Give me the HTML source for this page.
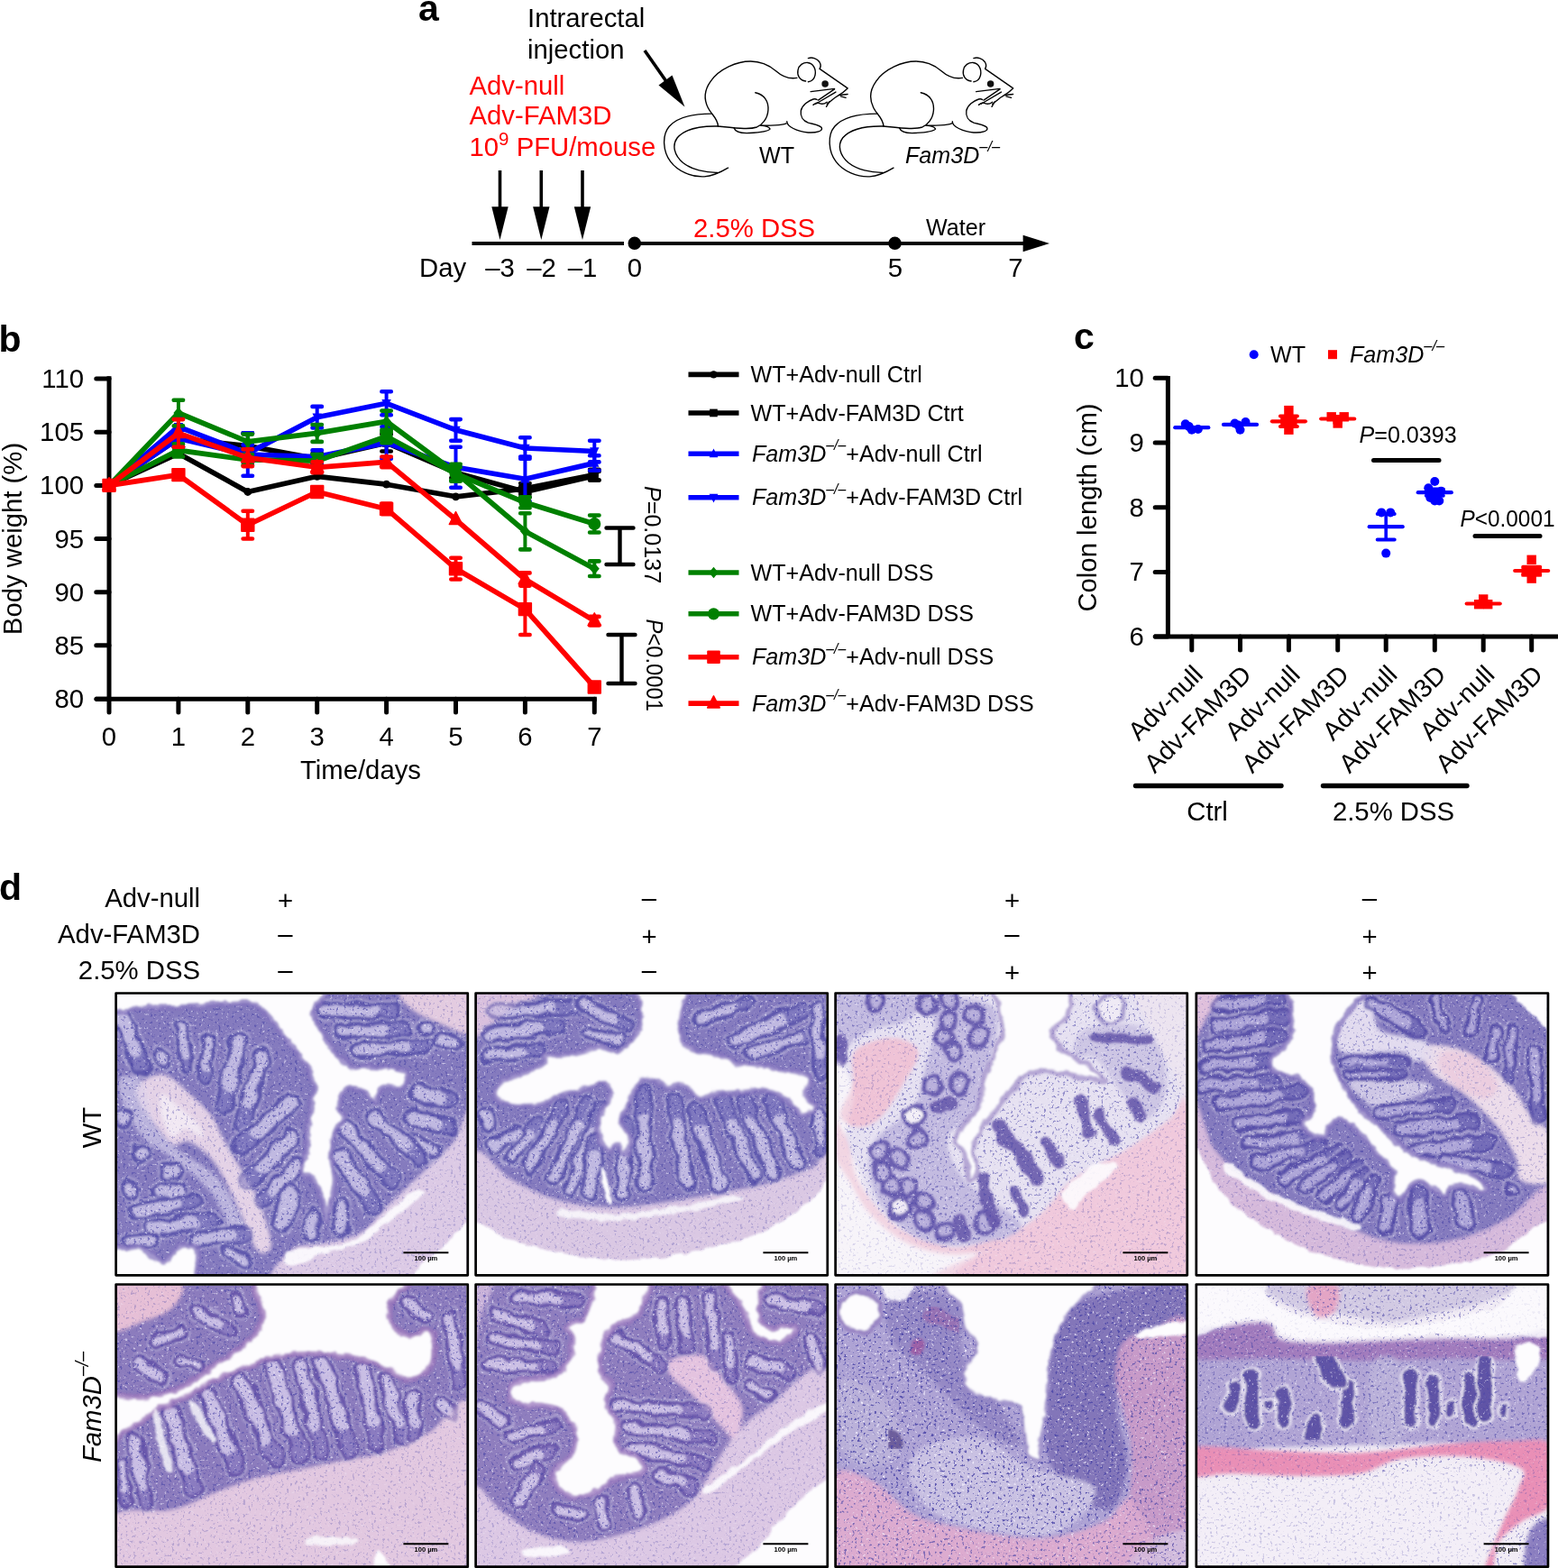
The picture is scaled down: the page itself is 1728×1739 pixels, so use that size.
<!DOCTYPE html>
<html lang="en"><head><meta charset="utf-8"><title>Figure</title>
<style>
html,body{margin:0;padding:0;background:#fff;}
body{width:1728px;height:1739px;overflow:hidden;}
svg{display:block;font-family:"Liberation Sans",sans-serif;}
.lab{font-size:41px;font-weight:bold;}
.t28{font-size:29.3px;}
.t26{font-size:27px;}
.t24{font-size:25.1px;}
.it{font-style:italic;}
.red{fill:#ff0000;}
</style></head><body>
<svg width="1728" height="1739" viewBox="0 0 1728 1739">
<defs>
<filter id="bl" x="-5%" y="-5%" width="110%" height="110%"><feGaussianBlur stdDeviation="10"/></filter>
<filter id="bl2" x="-5%" y="-5%" width="110%" height="110%"><feTurbulence type="fractalNoise" baseFrequency="0.012" numOctaves="2" seed="11" result="t"/><feDisplacementMap in="SourceGraphic" in2="t" scale="46" xChannelSelector="R" yChannelSelector="G" result="d"/><feGaussianBlur in="d" stdDeviation="5"/></filter>
<filter id="bl3" x="-5%" y="-5%" width="110%" height="110%"><feTurbulence type="fractalNoise" baseFrequency="0.02" numOctaves="2" seed="5" result="t"/><feDisplacementMap in="SourceGraphic" in2="t" scale="30" xChannelSelector="R" yChannelSelector="G" result="d"/><feGaussianBlur in="d" stdDeviation="4"/></filter>
<filter id="sp0" x="0" y="0" width="100%" height="100%" color-interpolation-filters="sRGB">
<feTurbulence type="fractalNoise" baseFrequency="0.33" numOctaves="2" seed="3" result="n"/>
<feColorMatrix in="n" type="matrix" values="0 0 0 0 0.30  0 0 0 0 0.28  0 0 0 0 0.66  -8 0 0 0 3.15" result="d"/>
<feColorMatrix in="n" type="matrix" values="0 0 0 0 0.96  0 0 0 0 0.95  0 0 0 0 1  0 6 0 0 -3.85" result="l"/>
<feMerge><feMergeNode in="l"/><feMergeNode in="d"/></feMerge>
</filter>
<filter id="sp1" x="0" y="0" width="100%" height="100%" color-interpolation-filters="sRGB">
<feTurbulence type="fractalNoise" baseFrequency="0.33" numOctaves="2" seed="10" result="n"/>
<feColorMatrix in="n" type="matrix" values="0 0 0 0 0.30  0 0 0 0 0.28  0 0 0 0 0.66  -8 0 0 0 3.15" result="d"/>
<feColorMatrix in="n" type="matrix" values="0 0 0 0 0.96  0 0 0 0 0.95  0 0 0 0 1  0 6 0 0 -3.85" result="l"/>
<feMerge><feMergeNode in="l"/><feMergeNode in="d"/></feMerge>
</filter>
<filter id="sp2" x="0" y="0" width="100%" height="100%" color-interpolation-filters="sRGB">
<feTurbulence type="fractalNoise" baseFrequency="0.33" numOctaves="2" seed="17" result="n"/>
<feColorMatrix in="n" type="matrix" values="0 0 0 0 0.30  0 0 0 0 0.28  0 0 0 0 0.66  -8 0 0 0 3.15" result="d"/>
<feColorMatrix in="n" type="matrix" values="0 0 0 0 0.96  0 0 0 0 0.95  0 0 0 0 1  0 6 0 0 -3.85" result="l"/>
<feMerge><feMergeNode in="l"/><feMergeNode in="d"/></feMerge>
</filter>
<filter id="sp3" x="0" y="0" width="100%" height="100%" color-interpolation-filters="sRGB">
<feTurbulence type="fractalNoise" baseFrequency="0.33" numOctaves="2" seed="24" result="n"/>
<feColorMatrix in="n" type="matrix" values="0 0 0 0 0.30  0 0 0 0 0.28  0 0 0 0 0.66  -8 0 0 0 3.15" result="d"/>
<feColorMatrix in="n" type="matrix" values="0 0 0 0 0.96  0 0 0 0 0.95  0 0 0 0 1  0 6 0 0 -3.85" result="l"/>
<feMerge><feMergeNode in="l"/><feMergeNode in="d"/></feMerge>
</filter>

</defs>
<rect width="1728" height="1739" fill="#fff"/>
<g id="pa">
<text x="464" y="22.8" class="lab">a</text>
<text x="585" y="30" class="t28">Intrarectal</text>
<text x="585" y="65" class="t28">injection</text>
<text x="520.5" y="104.5" class="t28 red">Adv-null</text>
<text x="520.5" y="138" class="t28 red">Adv-FAM3D</text>
<text x="520.5" y="173" class="t28 red">10<tspan dy="-11.7" font-size="20.5">9</tspan><tspan dy="11.7"> PFU/mouse</tspan></text>
<text x="769" y="263" class="t28 red">2.5% DSS</text>
<text x="1027" y="260.5" class="t24">Water</text>
<text x="842" y="180.5" class="t24">WT</text>
<text x="1004" y="180.5" class="t24 it">Fam3D<tspan dy="-12.5" font-size="16.5">–/–</tspan></text>
<text x="465" y="307.3" class="t28">Day</text>
<text x="554.5" y="307.3" class="t28" text-anchor="middle">–3</text>
<text x="600.5" y="307.3" class="t28" text-anchor="middle">–2</text>
<text x="646" y="307.3" class="t28" text-anchor="middle">–1</text>
<text x="704" y="307.3" class="t28" text-anchor="middle">0</text>
<text x="993" y="307.3" class="t28" text-anchor="middle">5</text>
<text x="1126.5" y="307.3" class="t28" text-anchor="middle">7</text>
<path d="M554.5 189V235" stroke="#000" stroke-width="3.6" fill="none"/>
<path d="M545.3 229.2L563.7 229.2L554.5 266Z" fill="#000"/>
<path d="M600.3 189V235" stroke="#000" stroke-width="3.6" fill="none"/>
<path d="M591.0999999999999 229.2L609.5 229.2L600.3 266Z" fill="#000"/>
<path d="M646 189V235" stroke="#000" stroke-width="3.6" fill="none"/>
<path d="M636.8 229.2L655.2 229.2L646 266Z" fill="#000"/>
<path d="M715 56L743 96" stroke="#000" stroke-width="3.6" fill="none"/>
<path d="M759.5 118.5L730.5 94.5L745.5 83.5Z" fill="#000"/>
<path d="M523.5 270H692M703 270H1140" stroke="#000" stroke-width="3.8" fill="none"/>
<circle cx="703.8" cy="269.8" r="7.3"/><circle cx="992.5" cy="269.8" r="7.3"/>
<path d="M1134.6 260.8L1164 270L1134.6 279.2Z" fill="#000"/>
<g transform="translate(720,50) scale(0.138889)"><g fill="none" stroke="#000" stroke-width="10" stroke-linecap="round" stroke-linejoin="round">
<path d="M1180,262 C1110,275 1050,240 1010,205 C950,155 880,130 810,130 C700,130 560,190 490,290 C440,360 435,430 470,500 C500,560 545,580 550,645"/>
<path d="M500,548 C380,548 230,570 160,650 C100,720 110,850 170,930 C230,1010 340,1055 440,1050 C520,1045 580,1010 630,980"/>
<path d="M550,648 C430,645 290,665 225,740 C180,800 200,880 270,940 C340,995 450,1020 545,1018"/>
<path d="M848,380 C920,395 955,450 950,520 C945,590 900,640 860,655 C800,675 720,665 550,648"/>
<path d="M678,662 C690,700 740,705 800,702 C870,698 950,690 965,670 C960,655 920,645 890,642"/>
<path d="M895,642 C960,645 1060,640 1095,625"/>
<path d="M1100,610 C1100,650 1180,690 1270,698 C1340,702 1385,685 1378,662 C1370,640 1310,632 1270,620 C1230,605 1205,570 1212,525 C1220,480 1270,445 1310,432 C1325,428 1335,432 1340,436"/>
<path d="M1310,478 C1325,465 1340,458 1350,462 C1370,472 1400,470 1420,455"/>
<path d="M1250,288 C1200,280 1180,240 1188,200 C1195,160 1230,138 1265,140 C1310,145 1335,190 1325,240 C1318,270 1295,290 1270,293"/>
<path d="M1270,105 C1300,95 1340,105 1360,135 C1372,155 1370,175 1362,188"/>
<path d="M1362,190 L1585,345 C1560,370 1530,392 1500,410 C1480,420 1455,445 1420,470"/>
<path d="M1290,372 L1480,348 M1350,440 L1480,352 M1330,470 L1490,375 M1520,400 L1585,392 M1530,410 L1570,420 M1415,492 L1440,450"/>
<circle cx="1405" cy="310" r="27" fill="#111" stroke="none"/>
</g></g>
<g transform="translate(903.5,50) scale(0.138889)"><g fill="none" stroke="#000" stroke-width="10" stroke-linecap="round" stroke-linejoin="round">
<path d="M1180,262 C1110,275 1050,240 1010,205 C950,155 880,130 810,130 C700,130 560,190 490,290 C440,360 435,430 470,500 C500,560 545,580 550,645"/>
<path d="M500,548 C380,548 230,570 160,650 C100,720 110,850 170,930 C230,1010 340,1055 440,1050 C520,1045 580,1010 630,980"/>
<path d="M550,648 C430,645 290,665 225,740 C180,800 200,880 270,940 C340,995 450,1020 545,1018"/>
<path d="M848,380 C920,395 955,450 950,520 C945,590 900,640 860,655 C800,675 720,665 550,648"/>
<path d="M678,662 C690,700 740,705 800,702 C870,698 950,690 965,670 C960,655 920,645 890,642"/>
<path d="M895,642 C960,645 1060,640 1095,625"/>
<path d="M1100,610 C1100,650 1180,690 1270,698 C1340,702 1385,685 1378,662 C1370,640 1310,632 1270,620 C1230,605 1205,570 1212,525 C1220,480 1270,445 1310,432 C1325,428 1335,432 1340,436"/>
<path d="M1310,478 C1325,465 1340,458 1350,462 C1370,472 1400,470 1420,455"/>
<path d="M1250,288 C1200,280 1180,240 1188,200 C1195,160 1230,138 1265,140 C1310,145 1335,190 1325,240 C1318,270 1295,290 1270,293"/>
<path d="M1270,105 C1300,95 1340,105 1360,135 C1372,155 1370,175 1362,188"/>
<path d="M1362,190 L1585,345 C1560,370 1530,392 1500,410 C1480,420 1455,445 1420,470"/>
<path d="M1290,372 L1480,348 M1350,440 L1480,352 M1330,470 L1490,375 M1520,400 L1585,392 M1530,410 L1570,420 M1415,492 L1440,450"/>
<circle cx="1405" cy="310" r="27" fill="#111" stroke="none"/>
</g></g>
</g>
<g id="pb">
<text x="-1.5" y="389.5" class="lab">b</text>
<path d="M121 417.3V777.7M106 775.2H661.8" stroke="#000" stroke-width="5" fill="none"/>
<path d="M106.8 420.1H121" stroke="#000" stroke-width="5" stroke-linecap="round"/>
<text x="93" y="430.1" class="t28" text-anchor="end">110</text>
<path d="M106.8 479.2H121" stroke="#000" stroke-width="5" stroke-linecap="round"/>
<text x="93" y="489.2" class="t28" text-anchor="end">105</text>
<path d="M106.8 538.4H121" stroke="#000" stroke-width="5" stroke-linecap="round"/>
<text x="93" y="548.4" class="t28" text-anchor="end">100</text>
<path d="M106.8 597.5H121" stroke="#000" stroke-width="5" stroke-linecap="round"/>
<text x="93" y="607.5" class="t28" text-anchor="end">95</text>
<path d="M106.8 656.7H121" stroke="#000" stroke-width="5" stroke-linecap="round"/>
<text x="93" y="666.7" class="t28" text-anchor="end">90</text>
<path d="M106.8 715.8H121" stroke="#000" stroke-width="5" stroke-linecap="round"/>
<text x="93" y="725.8" class="t28" text-anchor="end">85</text>
<text x="93" y="785.0" class="t28" text-anchor="end">80</text>
<path d="M106.8 775.2H121" stroke="#000" stroke-width="5" stroke-linecap="round"/>
<path d="M121.0 775.2V790" stroke="#000" stroke-width="5" stroke-linecap="round"/>
<text x="121.0" y="826.5" class="t28" text-anchor="middle">0</text>
<path d="M197.9 775.2V790" stroke="#000" stroke-width="5" stroke-linecap="round"/>
<text x="197.9" y="826.5" class="t28" text-anchor="middle">1</text>
<path d="M274.8 775.2V790" stroke="#000" stroke-width="5" stroke-linecap="round"/>
<text x="274.8" y="826.5" class="t28" text-anchor="middle">2</text>
<path d="M351.7 775.2V790" stroke="#000" stroke-width="5" stroke-linecap="round"/>
<text x="351.7" y="826.5" class="t28" text-anchor="middle">3</text>
<path d="M428.6 775.2V790" stroke="#000" stroke-width="5" stroke-linecap="round"/>
<text x="428.6" y="826.5" class="t28" text-anchor="middle">4</text>
<path d="M505.5 775.2V790" stroke="#000" stroke-width="5" stroke-linecap="round"/>
<text x="505.5" y="826.5" class="t28" text-anchor="middle">5</text>
<path d="M582.4 775.2V790" stroke="#000" stroke-width="5" stroke-linecap="round"/>
<text x="582.4" y="826.5" class="t28" text-anchor="middle">6</text>
<path d="M659.3 775.2V790" stroke="#000" stroke-width="5" stroke-linecap="round"/>
<text x="659.3" y="826.5" class="t28" text-anchor="middle">7</text>
<text x="400" y="864" class="t28" text-anchor="middle">Time/days</text>
<text transform="translate(24.2,597.5) rotate(-90)" class="t28" text-anchor="middle">Body weight (%)</text>
<g><polyline points="121.0,538.4 197.9,502.9 274.8,545.5 351.7,528.3 428.6,537.2 505.5,550.8 582.4,541.9 659.3,526.6" fill="none" stroke="#000" stroke-width="5.7" stroke-linejoin="round" stroke-linecap="round"/><circle cx="121.0" cy="538.4" r="4.4" fill="#000"/><circle cx="197.9" cy="502.9" r="4.4" fill="#000"/><circle cx="274.8" cy="545.5" r="4.4" fill="#000"/><circle cx="351.7" cy="528.3" r="4.4" fill="#000"/><circle cx="428.6" cy="537.2" r="4.4" fill="#000"/><circle cx="505.5" cy="550.8" r="4.4" fill="#000"/><path d="M582.4 536.0V547.9" stroke="#000" stroke-width="4" fill="none"/><path d="M577.2 536.0H587.6M577.2 547.9H587.6" stroke="#000" stroke-width="4.6" stroke-linecap="round" fill="none"/><circle cx="582.4" cy="541.9" r="4.4" fill="#000"/><path d="M659.3 520.7V532.5" stroke="#000" stroke-width="4" fill="none"/><path d="M654.1 520.7H664.5M654.1 532.5H664.5" stroke="#000" stroke-width="4.6" stroke-linecap="round" fill="none"/><circle cx="659.3" cy="526.6" r="4.4" fill="#000"/></g>
<g><polyline points="121.0,538.4 197.9,486.3 274.8,494.6 351.7,508.8 428.6,491.1 505.5,524.2 582.4,545.5 659.3,527.8" fill="none" stroke="#000" stroke-width="5.7" stroke-linejoin="round" stroke-linecap="round"/><rect x="116.4" y="533.8" width="9.2" height="9.2" fill="#000"/><path d="M197.9 476.9V495.8" stroke="#000" stroke-width="4" fill="none"/><path d="M192.7 476.9H203.1M192.7 495.8H203.1" stroke="#000" stroke-width="4.6" stroke-linecap="round" fill="none"/><rect x="193.3" y="481.7" width="9.2" height="9.2" fill="#000"/><path d="M274.8 480.4V508.8" stroke="#000" stroke-width="4" fill="none"/><path d="M269.6 480.4H280.0M269.6 508.8H280.0" stroke="#000" stroke-width="4.6" stroke-linecap="round" fill="none"/><rect x="270.2" y="490.0" width="9.2" height="9.2" fill="#000"/><path d="M351.7 502.9V514.7" stroke="#000" stroke-width="4" fill="none"/><path d="M346.5 502.9H356.9M346.5 514.7H356.9" stroke="#000" stroke-width="4.6" stroke-linecap="round" fill="none"/><rect x="347.1" y="504.2" width="9.2" height="9.2" fill="#000"/><path d="M428.6 481.6V500.5" stroke="#000" stroke-width="4" fill="none"/><path d="M423.4 481.6H433.8M423.4 500.5H433.8" stroke="#000" stroke-width="4.6" stroke-linecap="round" fill="none"/><rect x="424.0" y="486.5" width="9.2" height="9.2" fill="#000"/><path d="M505.5 518.3V530.1" stroke="#000" stroke-width="4" fill="none"/><path d="M500.3 518.3H510.7M500.3 530.1H510.7" stroke="#000" stroke-width="4.6" stroke-linecap="round" fill="none"/><rect x="500.9" y="519.6" width="9.2" height="9.2" fill="#000"/><path d="M582.4 539.6V551.4" stroke="#000" stroke-width="4" fill="none"/><path d="M577.2 539.6H587.6M577.2 551.4H587.6" stroke="#000" stroke-width="4.6" stroke-linecap="round" fill="none"/><rect x="577.8" y="540.9" width="9.2" height="9.2" fill="#000"/><path d="M659.3 523.0V532.5" stroke="#000" stroke-width="4" fill="none"/><path d="M654.1 523.0H664.5M654.1 532.5H664.5" stroke="#000" stroke-width="4.6" stroke-linecap="round" fill="none"/><rect x="654.7" y="523.2" width="9.2" height="9.2" fill="#000"/></g>
<g><polyline points="121.0,538.4 197.9,486.3 274.8,504.1 351.7,506.5 428.6,491.1 505.5,518.3 582.4,531.3 659.3,513.6" fill="none" stroke="#0000ff" stroke-width="5.7" stroke-linejoin="round" stroke-linecap="round"/><path d="M121.0 532.2L126.2 542.6L115.8 542.6Z" fill="#0000ff"/><path d="M197.9 476.9V495.8" stroke="#0000ff" stroke-width="4" fill="none"/><path d="M192.7 476.9H203.1M192.7 495.8H203.1" stroke="#0000ff" stroke-width="4.6" stroke-linecap="round" fill="none"/><path d="M197.9 480.1L203.1 490.5L192.7 490.5Z" fill="#0000ff"/><path d="M274.8 480.4V527.8" stroke="#0000ff" stroke-width="4" fill="none"/><path d="M269.6 480.4H280.0M269.6 527.8H280.0" stroke="#0000ff" stroke-width="4.6" stroke-linecap="round" fill="none"/><path d="M274.8 497.9L280.0 508.3L269.6 508.3Z" fill="#0000ff"/><path d="M351.7 499.4V513.6" stroke="#0000ff" stroke-width="4" fill="none"/><path d="M346.5 499.4H356.9M346.5 513.6H356.9" stroke="#0000ff" stroke-width="4.6" stroke-linecap="round" fill="none"/><path d="M351.7 500.3L356.9 510.7L346.5 510.7Z" fill="#0000ff"/><path d="M428.6 473.3V508.8" stroke="#0000ff" stroke-width="4" fill="none"/><path d="M423.4 473.3H433.8M423.4 508.8H433.8" stroke="#0000ff" stroke-width="4.6" stroke-linecap="round" fill="none"/><path d="M428.6 484.9L433.8 495.3L423.4 495.3Z" fill="#0000ff"/><path d="M505.5 495.8V540.8" stroke="#0000ff" stroke-width="4" fill="none"/><path d="M500.3 495.8H510.7M500.3 540.8H510.7" stroke="#0000ff" stroke-width="4.6" stroke-linecap="round" fill="none"/><path d="M505.5 512.1L510.7 522.5L500.3 522.5Z" fill="#0000ff"/><path d="M582.4 506.5V556.1" stroke="#0000ff" stroke-width="4" fill="none"/><path d="M577.2 506.5H587.6M577.2 556.1H587.6" stroke="#0000ff" stroke-width="4.6" stroke-linecap="round" fill="none"/><path d="M582.4 525.1L587.6 535.5L577.2 535.5Z" fill="#0000ff"/><path d="M659.3 505.3V521.8" stroke="#0000ff" stroke-width="4" fill="none"/><path d="M654.1 505.3H664.5M654.1 521.8H664.5" stroke="#0000ff" stroke-width="4.6" stroke-linecap="round" fill="none"/><path d="M659.3 507.4L664.5 517.8L654.1 517.8Z" fill="#0000ff"/></g>
<g><polyline points="121.0,538.4 197.9,473.3 274.8,502.9 351.7,462.7 428.6,447.3 505.5,476.9 582.4,497.0 659.3,500.5" fill="none" stroke="#0000ff" stroke-width="5.7" stroke-linejoin="round" stroke-linecap="round"/><path d="M121.0 544.6L126.2 534.2L115.8 534.2Z" fill="#0000ff"/><path d="M197.9 463.9V482.8" stroke="#0000ff" stroke-width="4" fill="none"/><path d="M192.7 463.9H203.1M192.7 482.8H203.1" stroke="#0000ff" stroke-width="4.6" stroke-linecap="round" fill="none"/><path d="M197.9 479.5L203.1 469.1L192.7 469.1Z" fill="#0000ff"/><path d="M274.8 493.4V512.4" stroke="#0000ff" stroke-width="4" fill="none"/><path d="M269.6 493.4H280.0M269.6 512.4H280.0" stroke="#0000ff" stroke-width="4.6" stroke-linecap="round" fill="none"/><path d="M274.8 509.1L280.0 498.7L269.6 498.7Z" fill="#0000ff"/><path d="M351.7 450.9V474.5" stroke="#0000ff" stroke-width="4" fill="none"/><path d="M346.5 450.9H356.9M346.5 474.5H356.9" stroke="#0000ff" stroke-width="4.6" stroke-linecap="round" fill="none"/><path d="M351.7 468.9L356.9 458.5L346.5 458.5Z" fill="#0000ff"/><path d="M428.6 434.3V460.3" stroke="#0000ff" stroke-width="4" fill="none"/><path d="M423.4 434.3H433.8M423.4 460.3H433.8" stroke="#0000ff" stroke-width="4.6" stroke-linecap="round" fill="none"/><path d="M428.6 453.5L433.8 443.1L423.4 443.1Z" fill="#0000ff"/><path d="M505.5 465.1V488.7" stroke="#0000ff" stroke-width="4" fill="none"/><path d="M500.3 465.1H510.7M500.3 488.7H510.7" stroke="#0000ff" stroke-width="4.6" stroke-linecap="round" fill="none"/><path d="M505.5 483.1L510.7 472.7L500.3 472.7Z" fill="#0000ff"/><path d="M582.4 485.2V508.8" stroke="#0000ff" stroke-width="4" fill="none"/><path d="M577.2 485.2H587.6M577.2 508.8H587.6" stroke="#0000ff" stroke-width="4.6" stroke-linecap="round" fill="none"/><path d="M582.4 503.2L587.6 492.8L577.2 492.8Z" fill="#0000ff"/><path d="M659.3 488.7V512.4" stroke="#0000ff" stroke-width="4" fill="none"/><path d="M654.1 488.7H664.5M654.1 512.4H664.5" stroke="#0000ff" stroke-width="4.6" stroke-linecap="round" fill="none"/><path d="M659.3 506.7L664.5 496.3L654.1 496.3Z" fill="#0000ff"/></g>
<g><polyline points="121.0,538.4 197.9,458.0 274.8,489.9 351.7,480.4 428.6,467.4 505.5,524.2 582.4,589.3 659.3,630.7" fill="none" stroke="#008000" stroke-width="5.7" stroke-linejoin="round" stroke-linecap="round"/><path d="M121.0 531.9L126.5 538.4L121.0 544.9L115.5 538.4Z" fill="#008000"/><path d="M197.9 443.8V472.2" stroke="#008000" stroke-width="4" fill="none"/><path d="M192.7 443.8H203.1M192.7 472.2H203.1" stroke="#008000" stroke-width="4.6" stroke-linecap="round" fill="none"/><path d="M197.9 451.5L203.4 458.0L197.9 464.5L192.4 458.0Z" fill="#008000"/><path d="M274.8 481.6V498.2" stroke="#008000" stroke-width="4" fill="none"/><path d="M269.6 481.6H280.0M269.6 498.2H280.0" stroke="#008000" stroke-width="4.6" stroke-linecap="round" fill="none"/><path d="M274.8 483.4L280.3 489.9L274.8 496.4L269.3 489.9Z" fill="#008000"/><path d="M351.7 471.0V489.9" stroke="#008000" stroke-width="4" fill="none"/><path d="M346.5 471.0H356.9M346.5 489.9H356.9" stroke="#008000" stroke-width="4.6" stroke-linecap="round" fill="none"/><path d="M351.7 473.9L357.2 480.4L351.7 486.9L346.2 480.4Z" fill="#008000"/><path d="M428.6 455.6V479.2" stroke="#008000" stroke-width="4" fill="none"/><path d="M423.4 455.6H433.8M423.4 479.2H433.8" stroke="#008000" stroke-width="4.6" stroke-linecap="round" fill="none"/><path d="M428.6 460.9L434.1 467.4L428.6 473.9L423.1 467.4Z" fill="#008000"/><path d="M505.5 514.7V533.7" stroke="#008000" stroke-width="4" fill="none"/><path d="M500.3 514.7H510.7M500.3 533.7H510.7" stroke="#008000" stroke-width="4.6" stroke-linecap="round" fill="none"/><path d="M505.5 517.7L511.0 524.2L505.5 530.7L500.0 524.2Z" fill="#008000"/><path d="M582.4 569.2V609.4" stroke="#008000" stroke-width="4" fill="none"/><path d="M577.2 569.2H587.6M577.2 609.4H587.6" stroke="#008000" stroke-width="4.6" stroke-linecap="round" fill="none"/><path d="M582.4 582.8L587.9 589.3L582.4 595.8L576.9 589.3Z" fill="#008000"/><path d="M659.3 622.4V639.0" stroke="#008000" stroke-width="4" fill="none"/><path d="M654.1 622.4H664.5M654.1 639.0H664.5" stroke="#008000" stroke-width="4.6" stroke-linecap="round" fill="none"/><path d="M659.3 624.2L664.8 630.7L659.3 637.2L653.8 630.7Z" fill="#008000"/></g>
<g><polyline points="121.0,538.4 197.9,499.4 274.8,510.0 351.7,511.2 428.6,484.0 505.5,525.4 582.4,557.3 659.3,581.0" fill="none" stroke="#008000" stroke-width="5.7" stroke-linejoin="round" stroke-linecap="round"/><circle cx="121.0" cy="538.4" r="7.0" fill="#008000"/><path d="M197.9 492.3V506.5" stroke="#008000" stroke-width="4" fill="none"/><path d="M192.7 492.3H203.1M192.7 506.5H203.1" stroke="#008000" stroke-width="4.6" stroke-linecap="round" fill="none"/><circle cx="197.9" cy="499.4" r="7.0" fill="#008000"/><path d="M274.8 504.1V515.9" stroke="#008000" stroke-width="4" fill="none"/><path d="M269.6 504.1H280.0M269.6 515.9H280.0" stroke="#008000" stroke-width="4.6" stroke-linecap="round" fill="none"/><circle cx="274.8" cy="510.0" r="7.0" fill="#008000"/><path d="M351.7 504.1V518.3" stroke="#008000" stroke-width="4" fill="none"/><path d="M346.5 504.1H356.9M346.5 518.3H356.9" stroke="#008000" stroke-width="4.6" stroke-linecap="round" fill="none"/><circle cx="351.7" cy="511.2" r="7.0" fill="#008000"/><path d="M428.6 476.9V491.1" stroke="#008000" stroke-width="4" fill="none"/><path d="M423.4 476.9H433.8M423.4 491.1H433.8" stroke="#008000" stroke-width="4.6" stroke-linecap="round" fill="none"/><circle cx="428.6" cy="484.0" r="7.0" fill="#008000"/><path d="M505.5 518.3V532.5" stroke="#008000" stroke-width="4" fill="none"/><path d="M500.3 518.3H510.7M500.3 532.5H510.7" stroke="#008000" stroke-width="4.6" stroke-linecap="round" fill="none"/><circle cx="505.5" cy="525.4" r="7.0" fill="#008000"/><path d="M582.4 551.4V563.2" stroke="#008000" stroke-width="4" fill="none"/><path d="M577.2 551.4H587.6M577.2 563.2H587.6" stroke="#008000" stroke-width="4.6" stroke-linecap="round" fill="none"/><circle cx="582.4" cy="557.3" r="7.0" fill="#008000"/><path d="M659.3 571.5V590.5" stroke="#008000" stroke-width="4" fill="none"/><path d="M654.1 571.5H664.5M654.1 590.5H664.5" stroke="#008000" stroke-width="4.6" stroke-linecap="round" fill="none"/><circle cx="659.3" cy="581.0" r="7.0" fill="#008000"/></g>
<g><polyline points="121.0,538.4 197.9,526.6 274.8,582.2 351.7,545.5 428.6,564.4 505.5,630.7 582.4,675.6 659.3,762.0" fill="none" stroke="#ff0000" stroke-width="5.7" stroke-linejoin="round" stroke-linecap="round"/><rect x="113.3" y="530.7" width="15.4" height="15.4" rx="1" fill="#ff0000"/><rect x="190.2" y="518.9" width="15.4" height="15.4" rx="1" fill="#ff0000"/><path d="M274.8 566.8V597.5" stroke="#ff0000" stroke-width="4" fill="none"/><path d="M269.6 566.8H280.0M269.6 597.5H280.0" stroke="#ff0000" stroke-width="4.6" stroke-linecap="round" fill="none"/><rect x="267.1" y="574.5" width="15.4" height="15.4" rx="1" fill="#ff0000"/><path d="M351.7 540.8V550.2" stroke="#ff0000" stroke-width="4" fill="none"/><path d="M346.5 540.8H356.9M346.5 550.2H356.9" stroke="#ff0000" stroke-width="4.6" stroke-linecap="round" fill="none"/><rect x="344.0" y="537.8" width="15.4" height="15.4" rx="1" fill="#ff0000"/><path d="M428.6 558.5V570.3" stroke="#ff0000" stroke-width="4" fill="none"/><path d="M423.4 558.5H433.8M423.4 570.3H433.8" stroke="#ff0000" stroke-width="4.6" stroke-linecap="round" fill="none"/><rect x="420.9" y="556.7" width="15.4" height="15.4" rx="1" fill="#ff0000"/><path d="M505.5 618.8V642.5" stroke="#ff0000" stroke-width="4" fill="none"/><path d="M500.3 618.8H510.7M500.3 642.5H510.7" stroke="#ff0000" stroke-width="4.6" stroke-linecap="round" fill="none"/><rect x="497.8" y="623.0" width="15.4" height="15.4" rx="1" fill="#ff0000"/><path d="M582.4 647.2V704.0" stroke="#ff0000" stroke-width="4" fill="none"/><path d="M577.2 647.2H587.6M577.2 704.0H587.6" stroke="#ff0000" stroke-width="4.6" stroke-linecap="round" fill="none"/><rect x="574.7" y="667.9" width="15.4" height="15.4" rx="1" fill="#ff0000"/><rect x="651.6" y="754.3" width="15.4" height="15.4" rx="1" fill="#ff0000"/></g>
<g><polyline points="121.0,538.4 197.9,480.4 274.8,507.6 351.7,518.3 428.6,512.4 505.5,576.3 582.4,642.5 659.3,688.6" fill="none" stroke="#ff0000" stroke-width="5.7" stroke-linejoin="round" stroke-linecap="round"/><path d="M121.0 529.7L128.2 543.6L113.8 543.6Z" fill="#ff0000" stroke="#ff0000" stroke-width="1.5" stroke-linejoin="round"/><path d="M197.9 465.1V495.8" stroke="#ff0000" stroke-width="4" fill="none"/><path d="M192.7 465.1H203.1M192.7 495.8H203.1" stroke="#ff0000" stroke-width="4.6" stroke-linecap="round" fill="none"/><path d="M197.9 471.7L205.1 485.6L190.7 485.6Z" fill="#ff0000" stroke="#ff0000" stroke-width="1.5" stroke-linejoin="round"/><path d="M274.8 498.2V517.1" stroke="#ff0000" stroke-width="4" fill="none"/><path d="M269.6 498.2H280.0M269.6 517.1H280.0" stroke="#ff0000" stroke-width="4.6" stroke-linecap="round" fill="none"/><path d="M274.8 498.9L282.0 512.8L267.6 512.8Z" fill="#ff0000" stroke="#ff0000" stroke-width="1.5" stroke-linejoin="round"/><path d="M351.7 512.4V524.2" stroke="#ff0000" stroke-width="4" fill="none"/><path d="M346.5 512.4H356.9M346.5 524.2H356.9" stroke="#ff0000" stroke-width="4.6" stroke-linecap="round" fill="none"/><path d="M351.7 509.6L358.9 523.5L344.5 523.5Z" fill="#ff0000" stroke="#ff0000" stroke-width="1.5" stroke-linejoin="round"/><path d="M428.6 506.5V518.3" stroke="#ff0000" stroke-width="4" fill="none"/><path d="M423.4 506.5H433.8M423.4 518.3H433.8" stroke="#ff0000" stroke-width="4.6" stroke-linecap="round" fill="none"/><path d="M428.6 503.7L435.8 517.6L421.4 517.6Z" fill="#ff0000" stroke="#ff0000" stroke-width="1.5" stroke-linejoin="round"/><path d="M505.5 567.6L512.7 581.5L498.3 581.5Z" fill="#ff0000" stroke="#ff0000" stroke-width="1.5" stroke-linejoin="round"/><path d="M582.4 635.4V649.6" stroke="#ff0000" stroke-width="4" fill="none"/><path d="M577.2 635.4H587.6M577.2 649.6H587.6" stroke="#ff0000" stroke-width="4.6" stroke-linecap="round" fill="none"/><path d="M582.4 633.8L589.6 647.7L575.2 647.7Z" fill="#ff0000" stroke="#ff0000" stroke-width="1.5" stroke-linejoin="round"/><path d="M659.3 683.9V693.4" stroke="#ff0000" stroke-width="4" fill="none"/><path d="M654.1 683.9H664.5M654.1 693.4H664.5" stroke="#ff0000" stroke-width="4.6" stroke-linecap="round" fill="none"/><path d="M659.3 679.9L666.5 693.8L652.1 693.8Z" fill="#ff0000" stroke="#ff0000" stroke-width="1.5" stroke-linejoin="round"/></g>
<path d="M687.5 585.5V626M672.5 585.5H702.5M672.5 626H702.5" stroke="#000" stroke-width="4.4" stroke-linecap="round" fill="none"/>
<path d="M689.5 704V758M674.5 704H704.5M674.5 758H704.5" stroke="#000" stroke-width="4.4" stroke-linecap="round" fill="none"/>
<text transform="translate(715.3,539) rotate(90)" class="t24"><tspan class="it">P</tspan>=0.0137</text>
<text transform="translate(717.3,686.5) rotate(90)" class="t24" textLength="102.5" lengthAdjust="spacingAndGlyphs"><tspan class="it">P</tspan>&lt;0.0001</text>
<path d="M763.5 415.4H819.5" stroke="#000" stroke-width="5.6"/>
<circle cx="791.5" cy="415.4" r="4.2" fill="#000"/>
<text x="832.5" y="424.0" class="t24">WT+Adv-null Ctrl</text>
<path d="M763.5 458H819.5" stroke="#000" stroke-width="5.6"/>
<rect x="787.1" y="453.6" width="8.7" height="8.7" fill="#000"/>
<text x="832.5" y="466.6" class="t24">WT+Adv-FAM3D Ctrt</text>
<path d="M763.5 503.3H819.5" stroke="#0000ff" stroke-width="5.6"/>
<path d="M791.5 497.4L796.4 507.2L786.6 507.2Z" fill="#0000ff"/>
<text x="834" y="511.9" class="t24"><tspan class="it">Fam3D</tspan><tspan class="it" dy="-12.5" font-size="15.8">–/–</tspan><tspan dy="12.5">+Adv-null Ctrl</tspan></text>
<path d="M763.5 551.7H819.5" stroke="#0000ff" stroke-width="5.6"/>
<path d="M791.5 557.6L796.4 547.8L786.6 547.8Z" fill="#0000ff"/>
<text x="834" y="560.3" class="t24"><tspan class="it">Fam3D</tspan><tspan class="it" dy="-12.5" font-size="15.8">–/–</tspan><tspan dy="12.5">+Adv-FAM3D Ctrl</tspan></text>
<path d="M763.5 635H819.5" stroke="#008000" stroke-width="5.6"/>
<path d="M791.5 628.8L796.7 635.0L791.5 641.2L786.3 635.0Z" fill="#008000"/>
<text x="832.5" y="643.6" class="t24">WT+Adv-null DSS</text>
<path d="M763.5 680.8H819.5" stroke="#008000" stroke-width="5.6"/>
<circle cx="791.5" cy="680.8" r="6.6" fill="#008000"/>
<text x="832.5" y="689.4" class="t24">WT+Adv-FAM3D DSS</text>
<path d="M763.5 728.7H819.5" stroke="#ff0000" stroke-width="5.6"/>
<rect x="784.2" y="721.4" width="14.6" height="14.6" rx="1" fill="#ff0000"/>
<text x="834" y="737.3" class="t24"><tspan class="it">Fam3D</tspan><tspan class="it" dy="-12.5" font-size="15.8">–/–</tspan><tspan dy="12.5">+Adv-null DSS</tspan></text>
<path d="M763.5 780.1H819.5" stroke="#ff0000" stroke-width="5.6"/>
<path d="M791.5 771.8L798.3 784.9L784.7 784.9Z" fill="#ff0000" stroke="#ff0000" stroke-width="1.5" stroke-linejoin="round"/>
<text x="834" y="788.7" class="t24"><tspan class="it">Fam3D</tspan><tspan class="it" dy="-12.5" font-size="15.8">–/–</tspan><tspan dy="12.5">+Adv-FAM3D DSS</tspan></text>
</g>
<g id="pc">
<text x="1191" y="387" class="lab">c</text>
<path d="M1295.4 417V708.6M1280 706.1H1728" stroke="#000" stroke-width="5" fill="none"/>
<path d="M1281.2 419.3H1295" stroke="#000" stroke-width="5" stroke-linecap="round"/>
<text x="1268.8" y="429.3" class="t28" text-anchor="end">10</text>
<path d="M1281.2 491.0H1295" stroke="#000" stroke-width="5" stroke-linecap="round"/>
<text x="1268.8" y="501.0" class="t28" text-anchor="end">9</text>
<path d="M1281.2 562.7H1295" stroke="#000" stroke-width="5" stroke-linecap="round"/>
<text x="1268.8" y="572.7" class="t28" text-anchor="end">8</text>
<path d="M1281.2 634.4H1295" stroke="#000" stroke-width="5" stroke-linecap="round"/>
<text x="1268.8" y="644.4" class="t28" text-anchor="end">7</text>
<path d="M1281.2 706.1H1295" stroke="#000" stroke-width="5" stroke-linecap="round"/>
<text x="1268.8" y="716.1" class="t28" text-anchor="end">6</text>
<path d="M1321.8 706.1V721" stroke="#000" stroke-width="5" stroke-linecap="round"/>
<path d="M1375.5 706.1V721" stroke="#000" stroke-width="5" stroke-linecap="round"/>
<path d="M1429.4 706.1V721" stroke="#000" stroke-width="5" stroke-linecap="round"/>
<path d="M1483.7 706.1V721" stroke="#000" stroke-width="5" stroke-linecap="round"/>
<path d="M1537.2 706.1V721" stroke="#000" stroke-width="5" stroke-linecap="round"/>
<path d="M1591.3 706.1V721" stroke="#000" stroke-width="5" stroke-linecap="round"/>
<path d="M1645.2 706.1V721" stroke="#000" stroke-width="5" stroke-linecap="round"/>
<path d="M1698.7 706.1V721" stroke="#000" stroke-width="5" stroke-linecap="round"/>
<text transform="translate(1215.5,563) rotate(-90)" class="t28" text-anchor="middle">Colon length (cm)</text>
<circle cx="1390.7" cy="393.2" r="5" fill="#0000ff"/>
<text x="1409" y="401.6" class="t24">WT</text>
<rect x="1473" y="388.2" width="10" height="10" fill="#ff0000"/>
<text x="1497" y="401.6" class="t24 it">Fam3D<tspan dy="-12.5" font-size="16.5">–/–</tspan></text>
<circle cx="1314.8" cy="470.2" r="5" fill="#0000ff"/>
<circle cx="1321.8" cy="476.7" r="5" fill="#0000ff"/>
<circle cx="1328.8" cy="475.9" r="5" fill="#0000ff"/>
<circle cx="1318.8" cy="473.1" r="5" fill="#0000ff"/>
<path d="M1303.3 474.2H1340.3" stroke="#0000ff" stroke-width="4.2" stroke-linecap="round"/>
<circle cx="1369.5" cy="469.5" r="5" fill="#0000ff"/>
<circle cx="1381.5" cy="468.1" r="5" fill="#0000ff"/>
<circle cx="1375.5" cy="476.7" r="5" fill="#0000ff"/>
<circle cx="1373.5" cy="471.6" r="5" fill="#0000ff"/>
<path d="M1357.0 470.9H1394.0" stroke="#0000ff" stroke-width="4.2" stroke-linecap="round"/>
<rect x="1424.2" y="449.9" width="10.4" height="10.4" fill="#ff0000"/>
<rect x="1424.2" y="471.5" width="10.4" height="10.4" fill="#ff0000"/>
<rect x="1420.2" y="462.9" width="10.4" height="10.4" fill="#ff0000"/>
<rect x="1428.2" y="461.4" width="10.4" height="10.4" fill="#ff0000"/>
<path d="M1410.9 467.3H1447.9" stroke="#ff0000" stroke-width="4.2" stroke-linecap="round"/>
<path d="M1429.4 461.6V473.1" stroke="#ff0000" stroke-width="3.6"/>
<path d="M1419.9 461.6H1438.9M1419.9 473.1H1438.9" stroke="#ff0000" stroke-width="4" stroke-linecap="round"/>
<rect x="1471.5" y="457.1" width="10.4" height="10.4" fill="#ff0000"/>
<rect x="1485.5" y="457.1" width="10.4" height="10.4" fill="#ff0000"/>
<rect x="1478.5" y="464.3" width="10.4" height="10.4" fill="#ff0000"/>
<rect x="1478.5" y="460.0" width="10.4" height="10.4" fill="#ff0000"/>
<path d="M1465.2 464.5H1502.2" stroke="#ff0000" stroke-width="4.2" stroke-linecap="round"/>
<circle cx="1532.2" cy="568.4" r="5" fill="#0000ff"/>
<circle cx="1542.2" cy="568.4" r="5" fill="#0000ff"/>
<circle cx="1537.2" cy="613.6" r="5" fill="#0000ff"/>
<path d="M1518.7 584.2H1555.7" stroke="#0000ff" stroke-width="4.2" stroke-linecap="round"/>
<path d="M1537.2 569.9V598.5" stroke="#0000ff" stroke-width="3.6"/>
<path d="M1527.7 569.9H1546.7M1527.7 598.5H1546.7" stroke="#0000ff" stroke-width="4" stroke-linecap="round"/>
<circle cx="1591.3" cy="534.0" r="5" fill="#0000ff"/>
<circle cx="1584.3" cy="541.2" r="5" fill="#0000ff"/>
<circle cx="1598.3" cy="544.8" r="5" fill="#0000ff"/>
<circle cx="1586.3" cy="551.9" r="5" fill="#0000ff"/>
<circle cx="1596.3" cy="555.5" r="5" fill="#0000ff"/>
<circle cx="1591.3" cy="555.5" r="5" fill="#0000ff"/>
<circle cx="1591.3" cy="546.9" r="5" fill="#0000ff"/>
<path d="M1572.8 546.2H1609.8" stroke="#0000ff" stroke-width="4.2" stroke-linecap="round"/>
<path d="M1591.3 542.6V549.8" stroke="#0000ff" stroke-width="3.6"/>
<path d="M1581.8 542.6H1600.8M1581.8 549.8H1600.8" stroke="#0000ff" stroke-width="4" stroke-linecap="round"/>
<rect x="1635.0" y="665.0" width="10.4" height="10.4" fill="#ff0000"/>
<rect x="1645.0" y="665.0" width="10.4" height="10.4" fill="#ff0000"/>
<rect x="1640.0" y="659.3" width="10.4" height="10.4" fill="#ff0000"/>
<path d="M1626.7 669.5H1663.7" stroke="#ff0000" stroke-width="4.2" stroke-linecap="round"/>
<rect x="1693.5" y="615.6" width="10.4" height="10.4" fill="#ff0000"/>
<rect x="1687.5" y="629.2" width="10.4" height="10.4" fill="#ff0000"/>
<rect x="1699.5" y="629.2" width="10.4" height="10.4" fill="#ff0000"/>
<rect x="1693.5" y="636.4" width="10.4" height="10.4" fill="#ff0000"/>
<rect x="1693.5" y="627.8" width="10.4" height="10.4" fill="#ff0000"/>
<path d="M1680.2 633.0H1717.2" stroke="#ff0000" stroke-width="4.2" stroke-linecap="round"/>
<path d="M1698.7 628.7V637.3" stroke="#ff0000" stroke-width="3.6"/>
<path d="M1689.2 628.7H1708.2M1689.2 637.3H1708.2" stroke="#ff0000" stroke-width="4" stroke-linecap="round"/>
<path d="M1523.5 510.5H1596" stroke="#000" stroke-width="5" stroke-linecap="round"/>
<text x="1507.5" y="491" class="t24"><tspan class="it">P</tspan>=0.0393</text>
<path d="M1636 594.5H1708" stroke="#000" stroke-width="5" stroke-linecap="round"/>
<text x="1619.5" y="583.5" class="t24" textLength="105" lengthAdjust="spacingAndGlyphs"><tspan class="it">P</tspan>&lt;0.0001</text>
<text transform="translate(1335.8,750) rotate(-45)" class="t28" style="font-size:28.5px" text-anchor="end">Adv-null</text>
<text transform="translate(1389.5,750) rotate(-45)" class="t28" style="font-size:28.5px" text-anchor="end">Adv-FAM3D</text>
<text transform="translate(1443.4,750) rotate(-45)" class="t28" style="font-size:28.5px" text-anchor="end">Adv-null</text>
<text transform="translate(1497.7,750) rotate(-45)" class="t28" style="font-size:28.5px" text-anchor="end">Adv-FAM3D</text>
<text transform="translate(1551.2,750) rotate(-45)" class="t28" style="font-size:28.5px" text-anchor="end">Adv-null</text>
<text transform="translate(1605.3,750) rotate(-45)" class="t28" style="font-size:28.5px" text-anchor="end">Adv-FAM3D</text>
<text transform="translate(1659.2,750) rotate(-45)" class="t28" style="font-size:28.5px" text-anchor="end">Adv-null</text>
<text transform="translate(1712.7,750) rotate(-45)" class="t28" style="font-size:28.5px" text-anchor="end">Adv-FAM3D</text>
<path d="M1259.5 871.5H1421" stroke="#000" stroke-width="5.4" stroke-linecap="round"/>
<path d="M1467.5 871.5H1627" stroke="#000" stroke-width="5.4" stroke-linecap="round"/>
<text x="1339" y="910" class="t28" text-anchor="middle">Ctrl</text>
<text x="1545.5" y="910" class="t28" text-anchor="middle">2.5% DSS</text>
</g>
<g id="pd">
<text x="-1" y="998" class="lab">d</text>
<text x="222" y="1006" class="t28" text-anchor="end">Adv-null</text>
<text x="222" y="1046" class="t28" text-anchor="end">Adv-FAM3D</text>
<text x="222" y="1086" class="t28" text-anchor="end">2.5% DSS</text>
<text x="316.5" y="1008.5" class="t28" text-anchor="middle">+</text>
<text x="720" y="1006" class="t28" text-anchor="middle">–</text>
<text x="1122.5" y="1008.5" class="t28" text-anchor="middle">+</text>
<text x="1519" y="1006" class="t28" text-anchor="middle">–</text>
<text x="316.5" y="1046" class="t28" text-anchor="middle">–</text>
<text x="720" y="1048.5" class="t28" text-anchor="middle">+</text>
<text x="1122.5" y="1046" class="t28" text-anchor="middle">–</text>
<text x="1519" y="1048.5" class="t28" text-anchor="middle">+</text>
<text x="316.5" y="1086" class="t28" text-anchor="middle">–</text>
<text x="720" y="1086" class="t28" text-anchor="middle">–</text>
<text x="1122.5" y="1088.5" class="t28" text-anchor="middle">+</text>
<text x="1519" y="1088.5" class="t28" text-anchor="middle">+</text>
<text transform="translate(112.3,1250.5) rotate(-90)" class="t28" text-anchor="middle">WT</text>
<text transform="translate(112.3,1560.5) rotate(-90)" class="t28 it" text-anchor="middle">Fam3D<tspan dy="-14.5" font-size="19.5">–/–</tspan></text>
<clipPath id="cp00"><rect x="129.97" y="1102.83" width="387.46" height="310.11"/></clipPath>
<g clip-path="url(#cp00)">
<rect x="128.97" y="1101.83" width="389.46" height="312.11" fill="#857bbe"/>
<g transform="translate(120,1095) scale(0.237269)" filter="url(#bl)"><path d="M1380,20C1427,7 1647,-12 1700,20C1753,52 1723,185 1700,210C1677,235 1607,188 1560,170C1513,152 1450,125 1420,100C1390,75 1333,33 1380,20Z" fill="#e3cbe0"/><path d="M150,450C170,432 222,402 260,410C298,418 343,468 380,500C417,532 455,567 480,600C505,633 510,663 530,700C550,737 572,770 600,820C628,870 673,937 700,1000C727,1063 760,1162 760,1200C760,1238 723,1255 700,1230C677,1205 653,1118 620,1050C587,982 540,875 500,820C460,765 413,735 380,720C347,705 330,748 300,730C270,712 227,645 200,610C173,575 148,547 140,520C132,493 130,468 150,450Z" fill="#e4d2e6"/><path d="M60,420C77,407 133,403 160,440C187,477 192,587 220,640C248,693 280,717 330,760C380,803 468,838 520,900C572,962 627,1083 640,1130C653,1177 627,1208 600,1180C573,1152 530,1023 480,960C430,897 353,843 300,800C247,757 200,747 160,700C120,653 77,567 60,520C43,473 43,433 60,420Z" fill="#d3cde9" opacity="0.7"/><path d="M250,500C263,493 302,537 330,560C358,583 402,617 420,640C438,663 450,697 440,700C430,703 383,660 360,660C337,660 318,710 300,700C282,690 258,633 250,600C242,567 237,507 250,500Z" fill="#fdfcfe"/><path d="M820,1400C680,1372 830,1263 860,1230C890,1197 947,1213 1000,1200C1053,1187 1130,1178 1180,1150C1230,1122 1247,1082 1300,1030C1353,978 1447,892 1500,840C1553,788 1587,760 1620,720C1653,680 1687,487 1700,600C1713,713 1847,1267 1700,1400C1553,1533 960,1428 820,1400Z" fill="#dccbe5"/></g>
<g transform="translate(120,1095) scale(0.237269)" filter="url(#bl2)" stroke-linecap="round" fill="none"><path d="M70,140L150,370" stroke="#d3cde9" stroke-width="114" stroke-opacity="0.55"/><path d="M70,140L150,370" stroke="#5f59ad" stroke-width="100"/><path d="M70,140L150,370" stroke="#a8a0d5" stroke-opacity="0.45" stroke-width="64"/><path d="M70,140L128,306" stroke="#c0b9e1" stroke-width="58"/><path d="M250,320L250,340" stroke="#d3cde9" stroke-width="104" stroke-opacity="0.55"/><path d="M250,320L250,340" stroke="#5f59ad" stroke-width="90"/><path d="M250,320L250,340" stroke="#a8a0d5" stroke-opacity="0.45" stroke-width="54"/><path d="M250,320L250,340" stroke="#c0b9e1" stroke-width="48"/><path d="M340,180L370,370" stroke="#d3cde9" stroke-width="89" stroke-opacity="0.55"/><path d="M340,180L370,370" stroke="#5f59ad" stroke-width="75"/><path d="M340,180L370,370" stroke="#a8a0d5" stroke-opacity="0.45" stroke-width="39"/><path d="M340,180L362,317" stroke="#c0b9e1" stroke-width="33"/><path d="M470,240L450,420" stroke="#d3cde9" stroke-width="89" stroke-opacity="0.55"/><path d="M470,240L450,420" stroke="#5f59ad" stroke-width="75"/><path d="M470,240L450,420" stroke="#a8a0d5" stroke-opacity="0.45" stroke-width="39"/><path d="M470,240L456,370" stroke="#c0b9e1" stroke-width="33"/><path d="M610,250L545,550" stroke="#d3cde9" stroke-width="109" stroke-opacity="0.55"/><path d="M610,250L545,550" stroke="#5f59ad" stroke-width="95"/><path d="M610,250L545,550" stroke="#a8a0d5" stroke-opacity="0.45" stroke-width="59"/><path d="M610,250L563,466" stroke="#c0b9e1" stroke-width="53"/><path d="M725,310L625,640" stroke="#d3cde9" stroke-width="104" stroke-opacity="0.55"/><path d="M725,310L625,640" stroke="#5f59ad" stroke-width="90"/><path d="M725,310L625,640" stroke="#a8a0d5" stroke-opacity="0.45" stroke-width="54"/><path d="M725,310L653,548" stroke="#c0b9e1" stroke-width="48"/><path d="M850,540L625,740" stroke="#d3cde9" stroke-width="114" stroke-opacity="0.55"/><path d="M850,540L625,740" stroke="#5f59ad" stroke-width="100"/><path d="M850,540L625,740" stroke="#a8a0d5" stroke-opacity="0.45" stroke-width="64"/><path d="M850,540L688,684" stroke="#c0b9e1" stroke-width="58"/><path d="M860,700L665,900" stroke="#d3cde9" stroke-width="114" stroke-opacity="0.55"/><path d="M860,700L665,900" stroke="#5f59ad" stroke-width="100"/><path d="M860,700L665,900" stroke="#a8a0d5" stroke-opacity="0.45" stroke-width="64"/><path d="M860,700L720,844" stroke="#c0b9e1" stroke-width="58"/><path d="M880,840L725,1000" stroke="#d3cde9" stroke-width="104" stroke-opacity="0.55"/><path d="M880,840L725,1000" stroke="#5f59ad" stroke-width="90"/><path d="M880,840L725,1000" stroke="#a8a0d5" stroke-opacity="0.45" stroke-width="54"/><path d="M880,840L768,955" stroke="#c0b9e1" stroke-width="48"/><path d="M855,960L810,1100" stroke="#d3cde9" stroke-width="119" stroke-opacity="0.55"/><path d="M855,960L810,1100" stroke="#5f59ad" stroke-width="105"/><path d="M855,960L810,1100" stroke="#a8a0d5" stroke-opacity="0.45" stroke-width="69"/><path d="M855,960L810,1100" stroke="#c0b9e1" stroke-width="63"/><path d="M960,1070L950,1150" stroke="#d3cde9" stroke-width="104" stroke-opacity="0.55"/><path d="M960,1070L950,1150" stroke="#5f59ad" stroke-width="90"/><path d="M960,1070L950,1150" stroke="#a8a0d5" stroke-opacity="0.45" stroke-width="54"/><path d="M960,1070L950,1150" stroke="#c0b9e1" stroke-width="48"/><path d="M1090,1020L1090,1130" stroke="#d3cde9" stroke-width="104" stroke-opacity="0.55"/><path d="M1090,1020L1090,1130" stroke="#5f59ad" stroke-width="90"/><path d="M1090,1020L1090,1130" stroke="#a8a0d5" stroke-opacity="0.45" stroke-width="54"/><path d="M1090,1020L1090,1130" stroke="#c0b9e1" stroke-width="48"/><path d="M1010,110L1330,110" stroke="#d3cde9" stroke-width="104" stroke-opacity="0.55"/><path d="M1010,110L1330,110" stroke="#5f59ad" stroke-width="90"/><path d="M1010,110L1330,110" stroke="#a8a0d5" stroke-opacity="0.45" stroke-width="54"/><path d="M1010,110L1240,110" stroke="#c0b9e1" stroke-width="48"/><path d="M1090,205L1380,195" stroke="#d3cde9" stroke-width="99" stroke-opacity="0.55"/><path d="M1090,205L1380,195" stroke="#5f59ad" stroke-width="85"/><path d="M1090,205L1380,195" stroke="#a8a0d5" stroke-opacity="0.45" stroke-width="49"/><path d="M1090,205L1299,198" stroke="#c0b9e1" stroke-width="43"/><path d="M1160,295L1490,275" stroke="#d3cde9" stroke-width="94" stroke-opacity="0.55"/><path d="M1160,295L1490,275" stroke="#5f59ad" stroke-width="80"/><path d="M1160,295L1490,275" stroke="#a8a0d5" stroke-opacity="0.45" stroke-width="44"/><path d="M1160,295L1398,281" stroke="#c0b9e1" stroke-width="38"/><path d="M1560,250L1620,255" stroke="#d3cde9" stroke-width="104" stroke-opacity="0.55"/><path d="M1560,250L1620,255" stroke="#5f59ad" stroke-width="90"/><path d="M1560,250L1620,255" stroke="#a8a0d5" stroke-opacity="0.45" stroke-width="54"/><path d="M1560,250L1620,255" stroke="#c0b9e1" stroke-width="48"/><path d="M1450,500L1600,525" stroke="#d3cde9" stroke-width="109" stroke-opacity="0.55"/><path d="M1450,500L1600,525" stroke="#5f59ad" stroke-width="95"/><path d="M1450,500L1600,525" stroke="#a8a0d5" stroke-opacity="0.45" stroke-width="59"/><path d="M1450,500L1558,518" stroke="#c0b9e1" stroke-width="53"/><path d="M1430,610L1590,650" stroke="#d3cde9" stroke-width="109" stroke-opacity="0.55"/><path d="M1430,610L1590,650" stroke="#5f59ad" stroke-width="95"/><path d="M1430,610L1590,650" stroke="#a8a0d5" stroke-opacity="0.45" stroke-width="59"/><path d="M1430,610L1545,639" stroke="#c0b9e1" stroke-width="53"/><path d="M1400,720L1520,760" stroke="#d3cde9" stroke-width="104" stroke-opacity="0.55"/><path d="M1400,720L1520,760" stroke="#5f59ad" stroke-width="90"/><path d="M1400,720L1520,760" stroke="#a8a0d5" stroke-opacity="0.45" stroke-width="54"/><path d="M1400,720L1520,760" stroke="#c0b9e1" stroke-width="48"/><path d="M1110,660L1330,900" stroke="#d3cde9" stroke-width="104" stroke-opacity="0.55"/><path d="M1110,660L1330,900" stroke="#5f59ad" stroke-width="90"/><path d="M1110,660L1330,900" stroke="#a8a0d5" stroke-opacity="0.45" stroke-width="54"/><path d="M1110,660L1268,833" stroke="#c0b9e1" stroke-width="48"/><path d="M1080,790L1240,1020" stroke="#d3cde9" stroke-width="104" stroke-opacity="0.55"/><path d="M1080,790L1240,1020" stroke="#5f59ad" stroke-width="90"/><path d="M1080,790L1240,1020" stroke="#a8a0d5" stroke-opacity="0.45" stroke-width="54"/><path d="M1080,790L1195,956" stroke="#c0b9e1" stroke-width="48"/><path d="M1240,600L1460,800" stroke="#d3cde9" stroke-width="104" stroke-opacity="0.55"/><path d="M1240,600L1460,800" stroke="#5f59ad" stroke-width="90"/><path d="M1240,600L1460,800" stroke="#a8a0d5" stroke-opacity="0.45" stroke-width="54"/><path d="M1240,600L1398,744" stroke="#c0b9e1" stroke-width="48"/><path d="M70,610L70,620" stroke="#d3cde9" stroke-width="109" stroke-opacity="0.55"/><path d="M70,610L70,620" stroke="#5f59ad" stroke-width="95"/><path d="M70,610L70,620" stroke="#a8a0d5" stroke-opacity="0.45" stroke-width="59"/><path d="M70,610L70,620" stroke="#c0b9e1" stroke-width="53"/><path d="M150,770L160,780" stroke="#d3cde9" stroke-width="104" stroke-opacity="0.55"/><path d="M150,770L160,780" stroke="#5f59ad" stroke-width="90"/><path d="M150,770L160,780" stroke="#a8a0d5" stroke-opacity="0.45" stroke-width="54"/><path d="M150,770L160,780" stroke="#c0b9e1" stroke-width="48"/><path d="M100,940L105,950" stroke="#d3cde9" stroke-width="109" stroke-opacity="0.55"/><path d="M100,940L105,950" stroke="#5f59ad" stroke-width="95"/><path d="M100,940L105,950" stroke="#a8a0d5" stroke-opacity="0.45" stroke-width="59"/><path d="M100,940L105,950" stroke="#c0b9e1" stroke-width="53"/><path d="M270,860L320,860" stroke="#d3cde9" stroke-width="99" stroke-opacity="0.55"/><path d="M270,860L320,860" stroke="#5f59ad" stroke-width="85"/><path d="M270,860L320,860" stroke="#a8a0d5" stroke-opacity="0.45" stroke-width="49"/><path d="M270,860L320,860" stroke="#c0b9e1" stroke-width="43"/><path d="M250,950L330,950" stroke="#d3cde9" stroke-width="99" stroke-opacity="0.55"/><path d="M250,950L330,950" stroke="#5f59ad" stroke-width="85"/><path d="M250,950L330,950" stroke="#a8a0d5" stroke-opacity="0.45" stroke-width="49"/><path d="M250,950L330,950" stroke="#c0b9e1" stroke-width="43"/><path d="M130,1050L400,1000" stroke="#d3cde9" stroke-width="104" stroke-opacity="0.55"/><path d="M130,1050L400,1000" stroke="#5f59ad" stroke-width="90"/><path d="M130,1050L400,1000" stroke="#a8a0d5" stroke-opacity="0.45" stroke-width="54"/><path d="M130,1050L324,1014" stroke="#c0b9e1" stroke-width="48"/><path d="M200,1130L480,1090" stroke="#d3cde9" stroke-width="104" stroke-opacity="0.55"/><path d="M200,1130L480,1090" stroke="#5f59ad" stroke-width="90"/><path d="M200,1130L480,1090" stroke="#a8a0d5" stroke-opacity="0.45" stroke-width="54"/><path d="M200,1130L402,1101" stroke="#c0b9e1" stroke-width="48"/><path d="M420,1180L640,1150" stroke="#d3cde9" stroke-width="104" stroke-opacity="0.55"/><path d="M420,1180L640,1150" stroke="#5f59ad" stroke-width="90"/><path d="M420,1180L640,1150" stroke="#a8a0d5" stroke-opacity="0.45" stroke-width="54"/><path d="M420,1180L578,1158" stroke="#c0b9e1" stroke-width="48"/><path d="M100,1190L200,1180" stroke="#d3cde9" stroke-width="94" stroke-opacity="0.55"/><path d="M100,1190L200,1180" stroke="#5f59ad" stroke-width="80"/><path d="M100,1190L200,1180" stroke="#a8a0d5" stroke-opacity="0.45" stroke-width="44"/><path d="M100,1190L200,1180" stroke="#c0b9e1" stroke-width="38"/><path d="M560,1240L640,1280" stroke="#d3cde9" stroke-width="94" stroke-opacity="0.55"/><path d="M560,1240L640,1280" stroke="#5f59ad" stroke-width="80"/><path d="M560,1240L640,1280" stroke="#a8a0d5" stroke-opacity="0.45" stroke-width="44"/><path d="M560,1240L640,1280" stroke="#c0b9e1" stroke-width="38"/><path d="M1480,190L1485,190" stroke="#d3cde9" stroke-width="99" stroke-opacity="0.55"/><path d="M1480,190L1485,190" stroke="#5f59ad" stroke-width="85"/><path d="M1480,190L1485,190" stroke="#a8a0d5" stroke-opacity="0.45" stroke-width="49"/><path d="M1480,190L1485,190" stroke="#c0b9e1" stroke-width="43"/></g>
<rect x="128.97" y="1101.83" width="389.46" height="312.11" filter="url(#sp0)" opacity="0.62"/>
<g transform="translate(120,1095) scale(0.237269)" filter="url(#bl)"><path d="M1380,20C1427,7 1647,-12 1700,20C1753,52 1723,185 1700,210C1677,235 1607,188 1560,170C1513,152 1450,125 1420,100C1390,75 1333,33 1380,20Z" fill="#e3cbe0" opacity="0.5"/><path d="M150,450C170,432 222,402 260,410C298,418 343,468 380,500C417,532 455,567 480,600C505,633 510,663 530,700C550,737 572,770 600,820C628,870 673,937 700,1000C727,1063 760,1162 760,1200C760,1238 723,1255 700,1230C677,1205 653,1118 620,1050C587,982 540,875 500,820C460,765 413,735 380,720C347,705 330,748 300,730C270,712 227,645 200,610C173,575 148,547 140,520C132,493 130,468 150,450Z" fill="#e4d2e6" opacity="0.45"/><path d="M820,1400C680,1372 830,1263 860,1230C890,1197 947,1213 1000,1200C1053,1187 1130,1178 1180,1150C1230,1122 1247,1082 1300,1030C1353,978 1447,892 1500,840C1553,788 1587,760 1620,720C1653,680 1687,487 1700,600C1713,713 1847,1267 1700,1400C1553,1533 960,1428 820,1400Z" fill="#dccbe5" opacity="0.55"/></g>
<g transform="translate(120,1095) scale(0.237269)" filter="url(#bl3)"><path d="M830,1235C855,1221 947,1224 1000,1215C1053,1206 1100,1206 1150,1180C1200,1154 1252,1098 1300,1060C1348,1022 1413,964 1440,950C1467,936 1480,952 1460,975C1440,998 1368,1052 1320,1090C1272,1128 1223,1174 1170,1200C1117,1226 1053,1228 1000,1245C947,1262 878,1302 850,1300C822,1298 805,1249 830,1235Z" fill="#fdfcfe" opacity="0.9"/><path d="M20,-20C182,-42 793,-45 950,-20C1107,5 945,80 960,130C975,180 1017,245 1040,280C1063,315 1085,324 1100,340C1115,356 1113,370 1130,375C1147,380 1158,368 1200,370C1242,372 1348,380 1380,390C1412,400 1397,417 1395,430C1393,443 1389,463 1370,470C1351,477 1300,458 1280,470C1260,482 1263,537 1250,540C1237,543 1223,500 1200,490C1177,480 1130,468 1110,480C1090,492 1082,540 1080,560C1078,580 1103,580 1100,600C1097,620 1070,647 1060,680C1050,713 1040,763 1040,800C1040,837 1060,867 1060,900C1060,933 1047,969 1040,1000C1033,1031 1026,1085 1020,1085C1014,1085 1015,1031 1005,1000C995,969 977,922 960,900C943,878 910,895 905,870C900,845 924,795 930,750C936,705 935,650 940,600C945,550 967,495 960,450C953,405 927,372 900,330C873,288 830,237 800,200C770,163 745,131 720,110C695,89 703,75 650,72C597,69 475,86 400,90C325,94 270,92 200,95C130,98 10,129 -20,110C-50,91 -142,2 20,-20Z" fill="#fdfcfe" stroke="#8474bd" stroke-opacity="0.75" stroke-width="26" stroke-linejoin="round"/><path d="M-20,1235C8,1202 103,1212 150,1220C197,1228 230,1287 260,1285C290,1283 303,1218 330,1210C357,1202 417,1200 420,1235C423,1270 423,1389 350,1420C277,1451 42,1451 -20,1420C-82,1389 -48,1268 -20,1235Z" fill="#fdfcfe" stroke="#8474bd" stroke-opacity="0.75" stroke-width="26" stroke-linejoin="round"/><path d="M1400,1420C1348,1402 1423,1343 1450,1310C1477,1277 1520,1257 1560,1220C1600,1183 1657,1113 1690,1090C1723,1067 1748,1025 1760,1080C1772,1135 1820,1363 1760,1420C1700,1477 1452,1438 1400,1420Z" fill="#fdfcfe"/></g>
<path d="M447.4 1389.2h50" stroke="#000" stroke-width="2"/>
<text x="472.4" y="1398.2" font-size="7.6" font-weight="bold" text-anchor="middle">100 µm</text>
</g>
<rect x="128.62" y="1101.48" width="390.16" height="312.81" fill="none" stroke="#000" stroke-width="2.7" stroke-linejoin="round"/>
<clipPath id="cp01"><rect x="528.97" y="1102.83" width="387.46" height="310.11"/></clipPath>
<g clip-path="url(#cp01)">
<rect x="527.97" y="1101.83" width="389.46" height="312.11" fill="#857bbe"/>
<g transform="translate(519,1095) scale(0.237269)" filter="url(#bl)"><path d="M20,790C50,707 137,867 200,900C263,933 325,968 400,990C475,1012 567,1027 650,1030C733,1033 808,1022 900,1010C992,998 1117,975 1200,960C1283,945 1333,938 1400,920C1467,902 1550,868 1600,850C1650,832 1683,718 1700,810C1717,902 1980,1302 1700,1400C1420,1498 300,1502 20,1400C-260,1298 -10,873 20,790Z" fill="#dac8e3"/><path d="M20,20C72,-15 297,8 330,20C363,32 257,65 220,90C183,115 143,147 110,170C77,193 35,255 20,230C5,205 -32,55 20,20Z" fill="#dcc2de" opacity="0.95"/></g>
<g transform="translate(519,1095) scale(0.237269)" filter="url(#bl2)" stroke-linecap="round" fill="none"><path d="M120,740L230,680" stroke="#d3cde9" stroke-width="94" stroke-opacity="0.55"/><path d="M120,740L230,680" stroke="#5f59ad" stroke-width="80"/><path d="M120,740L230,680" stroke="#a8a0d5" stroke-opacity="0.45" stroke-width="44"/><path d="M120,740L230,680" stroke="#c0b9e1" stroke-width="38"/><path d="M200,800L330,640" stroke="#d3cde9" stroke-width="94" stroke-opacity="0.55"/><path d="M200,800L330,640" stroke="#5f59ad" stroke-width="80"/><path d="M200,800L330,640" stroke="#a8a0d5" stroke-opacity="0.45" stroke-width="44"/><path d="M200,800L294,685" stroke="#c0b9e1" stroke-width="38"/><path d="M290,840L440,560" stroke="#d3cde9" stroke-width="94" stroke-opacity="0.55"/><path d="M290,840L440,560" stroke="#5f59ad" stroke-width="80"/><path d="M290,840L440,560" stroke="#a8a0d5" stroke-opacity="0.45" stroke-width="44"/><path d="M290,840L398,638" stroke="#c0b9e1" stroke-width="38"/><path d="M400,890L560,540" stroke="#d3cde9" stroke-width="94" stroke-opacity="0.55"/><path d="M400,890L560,540" stroke="#5f59ad" stroke-width="80"/><path d="M400,890L560,540" stroke="#a8a0d5" stroke-opacity="0.45" stroke-width="44"/><path d="M400,890L515,638" stroke="#c0b9e1" stroke-width="38"/><path d="M480,940L620,560" stroke="#d3cde9" stroke-width="94" stroke-opacity="0.55"/><path d="M480,940L620,560" stroke="#5f59ad" stroke-width="80"/><path d="M480,940L620,560" stroke="#a8a0d5" stroke-opacity="0.45" stroke-width="44"/><path d="M480,940L581,666" stroke="#c0b9e1" stroke-width="38"/><path d="M570,960L600,720" stroke="#d3cde9" stroke-width="104" stroke-opacity="0.55"/><path d="M570,960L600,720" stroke="#5f59ad" stroke-width="90"/><path d="M570,960L600,720" stroke="#a8a0d5" stroke-opacity="0.45" stroke-width="54"/><path d="M570,960L592,787" stroke="#c0b9e1" stroke-width="48"/><path d="M720,960L740,640" stroke="#d3cde9" stroke-width="99" stroke-opacity="0.55"/><path d="M720,960L740,640" stroke="#5f59ad" stroke-width="85"/><path d="M720,960L740,640" stroke="#a8a0d5" stroke-opacity="0.45" stroke-width="49"/><path d="M720,960L734,730" stroke="#c0b9e1" stroke-width="43"/><path d="M830,920L820,490" stroke="#d3cde9" stroke-width="104" stroke-opacity="0.55"/><path d="M830,920L820,490" stroke="#5f59ad" stroke-width="90"/><path d="M830,920L820,490" stroke="#a8a0d5" stroke-opacity="0.45" stroke-width="54"/><path d="M830,920L823,610" stroke="#c0b9e1" stroke-width="48"/><path d="M1030,920L960,530" stroke="#d3cde9" stroke-width="104" stroke-opacity="0.55"/><path d="M1030,920L960,530" stroke="#5f59ad" stroke-width="90"/><path d="M1030,920L960,530" stroke="#a8a0d5" stroke-opacity="0.45" stroke-width="54"/><path d="M1030,920L980,639" stroke="#c0b9e1" stroke-width="48"/><path d="M1180,930L1060,570" stroke="#d3cde9" stroke-width="104" stroke-opacity="0.55"/><path d="M1180,930L1060,570" stroke="#5f59ad" stroke-width="90"/><path d="M1180,930L1060,570" stroke="#a8a0d5" stroke-opacity="0.45" stroke-width="54"/><path d="M1180,930L1094,671" stroke="#c0b9e1" stroke-width="48"/><path d="M1340,880L1190,530" stroke="#d3cde9" stroke-width="104" stroke-opacity="0.55"/><path d="M1340,880L1190,530" stroke="#5f59ad" stroke-width="90"/><path d="M1340,880L1190,530" stroke="#a8a0d5" stroke-opacity="0.45" stroke-width="54"/><path d="M1340,880L1232,628" stroke="#c0b9e1" stroke-width="48"/><path d="M1430,870L1290,530" stroke="#d3cde9" stroke-width="104" stroke-opacity="0.55"/><path d="M1430,870L1290,530" stroke="#5f59ad" stroke-width="90"/><path d="M1430,870L1290,530" stroke="#a8a0d5" stroke-opacity="0.45" stroke-width="54"/><path d="M1430,870L1329,625" stroke="#c0b9e1" stroke-width="48"/><path d="M1540,820L1420,530" stroke="#d3cde9" stroke-width="104" stroke-opacity="0.55"/><path d="M1540,820L1420,530" stroke="#5f59ad" stroke-width="90"/><path d="M1540,820L1420,530" stroke="#a8a0d5" stroke-opacity="0.45" stroke-width="54"/><path d="M1540,820L1454,611" stroke="#c0b9e1" stroke-width="48"/><path d="M100,220L420,180" stroke="#d3cde9" stroke-width="104" stroke-opacity="0.55"/><path d="M100,220L420,180" stroke="#5f59ad" stroke-width="90"/><path d="M100,220L420,180" stroke="#a8a0d5" stroke-opacity="0.45" stroke-width="54"/><path d="M100,220L330,191" stroke="#c0b9e1" stroke-width="48"/><path d="M130,110L500,95" stroke="#d3cde9" stroke-width="94" stroke-opacity="0.55"/><path d="M130,110L500,95" stroke="#5f59ad" stroke-width="80"/><path d="M130,110L500,95" stroke="#a8a0d5" stroke-opacity="0.45" stroke-width="44"/><path d="M130,110L396,99" stroke="#c0b9e1" stroke-width="38"/><path d="M540,80L740,180" stroke="#d3cde9" stroke-width="99" stroke-opacity="0.55"/><path d="M540,80L740,180" stroke="#5f59ad" stroke-width="85"/><path d="M540,80L740,180" stroke="#a8a0d5" stroke-opacity="0.45" stroke-width="49"/><path d="M540,80L684,152" stroke="#c0b9e1" stroke-width="43"/><path d="M100,320L330,290" stroke="#d3cde9" stroke-width="94" stroke-opacity="0.55"/><path d="M100,320L330,290" stroke="#5f59ad" stroke-width="80"/><path d="M100,320L330,290" stroke="#a8a0d5" stroke-opacity="0.45" stroke-width="44"/><path d="M100,320L266,298" stroke="#c0b9e1" stroke-width="38"/><path d="M560,210L700,250" stroke="#d3cde9" stroke-width="84" stroke-opacity="0.55"/><path d="M560,210L700,250" stroke="#5f59ad" stroke-width="70"/><path d="M560,210L700,250" stroke="#a8a0d5" stroke-opacity="0.45" stroke-width="34"/><path d="M560,210L700,250" stroke="#c0b9e1" stroke-width="28"/><path d="M1080,150L1300,70" stroke="#d3cde9" stroke-width="94" stroke-opacity="0.55"/><path d="M1080,150L1300,70" stroke="#5f59ad" stroke-width="80"/><path d="M1080,150L1300,70" stroke="#a8a0d5" stroke-opacity="0.45" stroke-width="44"/><path d="M1080,150L1238,92" stroke="#c0b9e1" stroke-width="38"/><path d="M1250,250L1560,110" stroke="#d3cde9" stroke-width="104" stroke-opacity="0.55"/><path d="M1250,250L1560,110" stroke="#5f59ad" stroke-width="90"/><path d="M1250,250L1560,110" stroke="#a8a0d5" stroke-opacity="0.45" stroke-width="54"/><path d="M1250,250L1473,149" stroke="#c0b9e1" stroke-width="48"/><path d="M1330,310L1640,210" stroke="#d3cde9" stroke-width="94" stroke-opacity="0.55"/><path d="M1330,310L1640,210" stroke="#5f59ad" stroke-width="80"/><path d="M1330,310L1640,210" stroke="#a8a0d5" stroke-opacity="0.45" stroke-width="44"/><path d="M1330,310L1553,238" stroke="#c0b9e1" stroke-width="38"/><path d="M1630,100L1650,400" stroke="#d3cde9" stroke-width="94" stroke-opacity="0.55"/><path d="M1630,100L1650,400" stroke="#5f59ad" stroke-width="80"/><path d="M1630,100L1650,400" stroke="#a8a0d5" stroke-opacity="0.45" stroke-width="44"/><path d="M1630,100L1644,316" stroke="#c0b9e1" stroke-width="38"/><path d="M80,600L100,640" stroke="#d3cde9" stroke-width="104" stroke-opacity="0.55"/><path d="M80,600L100,640" stroke="#5f59ad" stroke-width="90"/><path d="M80,600L100,640" stroke="#a8a0d5" stroke-opacity="0.45" stroke-width="54"/><path d="M80,600L100,640" stroke="#c0b9e1" stroke-width="48"/><path d="M1640,600L1650,760" stroke="#d3cde9" stroke-width="94" stroke-opacity="0.55"/><path d="M1640,600L1650,760" stroke="#5f59ad" stroke-width="80"/><path d="M1640,600L1650,760" stroke="#a8a0d5" stroke-opacity="0.45" stroke-width="44"/><path d="M1640,600L1647,715" stroke="#c0b9e1" stroke-width="38"/></g>
<rect x="527.97" y="1101.83" width="389.46" height="312.11" filter="url(#sp1)" opacity="0.62"/>
<g transform="translate(519,1095) scale(0.237269)" filter="url(#bl)"><path d="M20,790C50,707 137,867 200,900C263,933 325,968 400,990C475,1012 567,1027 650,1030C733,1033 808,1022 900,1010C992,998 1117,975 1200,960C1283,945 1333,938 1400,920C1467,902 1550,868 1600,850C1650,832 1683,718 1700,810C1717,902 1980,1302 1700,1400C1420,1498 300,1502 20,1400C-260,1298 -10,873 20,790Z" fill="#dac8e3" opacity="0.55"/><path d="M20,20C72,-15 297,8 330,20C363,32 257,65 220,90C183,115 143,147 110,170C77,193 35,255 20,230C5,205 -32,55 20,20Z" fill="#dcc2de" opacity="0.4"/></g>
<g transform="translate(519,1095) scale(0.237269)" filter="url(#bl3)"><path d="M20,1110C50,1070 137,1159 200,1180C263,1201 317,1219 400,1235C483,1251 600,1273 700,1275C800,1277 917,1258 1000,1245C1083,1232 1133,1219 1200,1200C1267,1181 1333,1163 1400,1130C1467,1097 1550,1033 1600,1000C1650,967 1683,860 1700,930C1717,1000 1980,1338 1700,1420C1420,1502 300,1472 20,1420C-260,1368 -10,1150 20,1110Z" fill="#fdfcfe"/><path d="M450,1040C492,1038 608,1063 700,1060C792,1057 908,1034 1000,1020C1092,1006 1208,978 1250,975C1292,972 1292,988 1250,1000C1208,1012 1092,1035 1000,1050C908,1065 792,1087 700,1090C608,1093 492,1078 450,1070C408,1062 408,1042 450,1040Z" fill="#fdfcfe" opacity="0.8"/><path d="M800,-20C835,-45 987,-43 1020,-20C1053,3 1005,80 1000,120C995,160 982,192 990,220C998,248 1015,273 1050,290C1085,307 1167,310 1200,320C1233,330 1217,342 1250,350C1283,358 1348,362 1400,370C1452,378 1527,388 1560,400C1593,412 1597,423 1600,440C1603,457 1577,480 1580,500C1583,520 1623,543 1620,560C1617,577 1583,607 1560,600C1537,593 1510,540 1480,520C1450,500 1410,485 1380,480C1350,475 1337,487 1300,490C1263,493 1195,495 1160,500C1125,505 1117,527 1090,520C1063,513 1025,468 1000,460C975,452 957,472 940,470C923,468 920,457 900,450C880,443 840,425 820,430C800,435 793,458 780,480C767,502 750,533 740,560C730,587 717,617 720,640C723,663 757,677 760,700C763,723 750,773 740,780C730,787 713,743 700,740C687,737 673,763 660,760C647,757 628,743 620,720C612,697 603,653 610,620C617,587 655,548 660,520C665,492 657,458 640,450C623,442 597,460 560,470C523,480 457,497 420,510C383,523 377,543 340,550C303,557 235,557 200,550C165,543 138,527 130,510C122,493 130,468 150,450C170,432 217,415 250,400C283,385 332,373 350,360C368,347 338,328 360,320C382,312 437,317 480,310C523,303 583,282 620,280C657,278 673,308 700,300C727,292 762,258 780,230C798,202 807,172 810,130C813,88 765,5 800,-20Z" fill="#fdfcfe" stroke="#8474bd" stroke-opacity="0.75" stroke-width="26" stroke-linejoin="round"/><path d="M635,840C642,857 670,973 672,1000C674,1027 657,1017 650,1000C643,983 630,927 628,900C626,873 628,823 635,840Z" fill="#fdfcfe"/></g>
<path d="M846.4 1389.2h50" stroke="#000" stroke-width="2"/>
<text x="871.4" y="1398.2" font-size="7.6" font-weight="bold" text-anchor="middle">100 µm</text>
</g>
<rect x="527.62" y="1101.48" width="390.16" height="312.81" fill="none" stroke="#000" stroke-width="2.7" stroke-linejoin="round"/>
<clipPath id="cp02"><rect x="927.97" y="1102.83" width="387.46" height="310.11"/></clipPath>
<g clip-path="url(#cp02)">
<rect x="926.97" y="1101.83" width="389.46" height="312.11" fill="#e6e1f1"/>
<g transform="translate(918,1095) scale(0.237269)" filter="url(#bl)"><path d="M20,400C37,247 110,450 120,500C130,550 77,642 80,700C83,758 120,800 140,850C160,900 165,950 200,1000C235,1050 300,1113 350,1150C400,1187 443,1205 500,1220C557,1235 670,1225 690,1240C710,1255 655,1280 620,1310C585,1340 580,1402 480,1420C380,1438 97,1590 20,1420C-57,1250 3,553 20,400Z" fill="#f7f3f9"/><path d="M130,300C160,265 252,240 300,240C348,240 412,265 420,300C428,335 378,400 350,450C322,500 283,567 250,600C217,633 182,650 150,650C118,650 65,633 60,600C55,567 108,500 120,450C132,400 100,335 130,300Z" fill="#efc3d6"/><path d="M20,600C30,590 60,650 80,700C100,750 112,840 140,900C168,960 207,1015 250,1060C293,1105 342,1143 400,1170C458,1197 533,1218 600,1220C667,1222 770,1181 800,1180C830,1179 813,1203 780,1215C747,1227 667,1252 600,1250C533,1248 447,1232 380,1200C313,1168 247,1110 200,1060C153,1010 130,950 100,900C70,850 33,810 20,760C7,710 10,610 20,600Z" fill="#efc3d6" opacity="0.8"/><path d="M500,1400C350,1367 717,1257 800,1200C883,1143 942,1110 1000,1060C1058,1010 1083,950 1150,900C1217,850 1325,807 1400,760C1475,713 1550,657 1600,620C1650,583 1683,410 1700,540C1717,670 1900,1257 1700,1400C1500,1543 650,1433 500,1400Z" fill="#f0c9dc"/><path d="M1450,20C1480,-10 1658,-67 1700,20C1742,107 1713,477 1700,540C1687,603 1650,457 1620,400C1590,343 1548,263 1520,200C1492,137 1420,50 1450,20Z" fill="#ece4f0"/><path d="M500,60C547,43 738,43 780,100C822,157 763,317 750,400C737,483 732,550 700,600C668,650 570,650 560,700C550,750 583,833 640,900C697,967 873,1053 900,1100C927,1147 867,1163 800,1180C733,1197 583,1217 500,1200C417,1183 350,1130 300,1080C250,1030 213,960 200,900C187,840 187,777 220,720C253,663 362,613 400,560C438,507 433,460 450,400C467,340 492,257 500,200C508,143 453,77 500,60Z" fill="#c3bbe0"/><path d="M20,20C87,-27 360,-2 420,20C480,42 417,120 380,150C343,180 253,175 200,200C147,225 90,283 60,300C30,317 27,347 20,300C13,253 -47,67 20,20Z" fill="#c3bbe0"/><path d="M1200,200C1250,175 1390,163 1450,180C1510,197 1538,247 1560,300C1582,353 1593,447 1580,500C1567,553 1513,620 1480,620C1447,620 1418,548 1380,500C1342,452 1288,358 1250,330C1212,302 1158,352 1150,330C1142,308 1150,225 1200,200Z" fill="#cdc6e4"/></g>
<g transform="translate(918,1095) scale(0.237269)" filter="url(#bl2)" stroke-linecap="round" fill="none"><circle cx="570" cy="60" r="42" fill="#b9b0dc" stroke="#6b5fb0" stroke-width="22"/><circle cx="690" cy="130" r="42" fill="#b9b0dc" stroke="#6b5fb0" stroke-width="22"/><circle cx="560" cy="150" r="40" fill="#b9b0dc" stroke="#6b5fb0" stroke-width="22"/><circle cx="545" cy="235" r="42" fill="#b9b0dc" stroke="#6b5fb0" stroke-width="22"/><circle cx="700" cy="230" r="42" fill="#b9b0dc" stroke="#6b5fb0" stroke-width="22"/><circle cx="585" cy="300" r="40" fill="#b9b0dc" stroke="#6b5fb0" stroke-width="22"/><circle cx="490" cy="455" r="45" fill="#b9b0dc" stroke="#6b5fb0" stroke-width="22"/><circle cx="615" cy="450" r="45" fill="#b9b0dc" stroke="#6b5fb0" stroke-width="22"/><circle cx="240" cy="770" r="45" fill="#b9b0dc" stroke="#6b5fb0" stroke-width="22"/><circle cx="335" cy="800" r="42" fill="#b9b0dc" stroke="#6b5fb0" stroke-width="22"/><circle cx="250" cy="860" r="42" fill="#b9b0dc" stroke="#6b5fb0" stroke-width="22"/><circle cx="300" cy="925" r="42" fill="#b9b0dc" stroke="#6b5fb0" stroke-width="22"/><circle cx="375" cy="930" r="40" fill="#b9b0dc" stroke="#6b5fb0" stroke-width="22"/><circle cx="420" cy="705" r="42" fill="#b9b0dc" stroke="#6b5fb0" stroke-width="22"/><circle cx="450" cy="1000" r="42" fill="#b9b0dc" stroke="#6b5fb0" stroke-width="22"/><circle cx="450" cy="1090" r="45" fill="#b9b0dc" stroke="#6b5fb0" stroke-width="22"/><circle cx="545" cy="1140" r="40" fill="#b9b0dc" stroke="#6b5fb0" stroke-width="22"/><circle cx="740" cy="1100" r="45" fill="#b9b0dc" stroke="#6b5fb0" stroke-width="22"/><circle cx="220" cy="60" r="40" fill="#b9b0dc" stroke="#6b5fb0" stroke-width="22"/><circle cx="465" cy="80" r="40" fill="#b9b0dc" stroke="#6b5fb0" stroke-width="22"/><circle cx="400" cy="600" r="48" fill="#f3eff7" stroke="#6b5fb0" stroke-width="18"/><circle cx="340" cy="1030" r="52" fill="#efeaf5" stroke="#6b5fb0" stroke-width="20"/><circle cx="1320" cy="100" r="70" fill="#efeaf5" stroke="#a99ed0" stroke-width="20"/><path d="M800,650L980,890" stroke="#6a5bac" stroke-width="75" opacity="0.92"/><path d="M1180,530L1225,680" stroke="#6a5bac" stroke-width="55" opacity="0.92"/><path d="M1270,590L1330,710" stroke="#6a5bac" stroke-width="55" opacity="0.92"/><path d="M1030,730L1080,820" stroke="#6a5bac" stroke-width="55" opacity="0.92"/><path d="M720,900L780,1100" stroke="#6a5bac" stroke-width="60" opacity="0.92"/><path d="M880,950L910,1050" stroke="#6a5bac" stroke-width="50" opacity="0.92"/><path d="M1400,400L1530,470" stroke="#6a5bac" stroke-width="60" opacity="0.92"/><path d="M1250,230L1500,250" stroke="#6a5bac" stroke-width="50" opacity="0.92"/><path d="M1420,540L1460,600" stroke="#6a5bac" stroke-width="50" opacity="0.92"/><path d="M510,560L580,540" stroke="#6a5bac" stroke-width="60" opacity="0.92"/><path d="M620,1100L640,1150" stroke="#6a5bac" stroke-width="70" opacity="0.92"/><path d="M60,250L60,330" stroke="#6a5bac" stroke-width="60" opacity="0.92"/></g>
<rect x="926.97" y="1101.83" width="389.46" height="312.11" filter="url(#sp2)" opacity="0.56"/>
<g transform="translate(918,1095) scale(0.237269)" filter="url(#bl)"><path d="M20,400C37,247 110,450 120,500C130,550 77,642 80,700C83,758 120,800 140,850C160,900 165,950 200,1000C235,1050 300,1113 350,1150C400,1187 443,1205 500,1220C557,1235 670,1225 690,1240C710,1255 655,1280 620,1310C585,1340 580,1402 480,1420C380,1438 97,1590 20,1420C-57,1250 3,553 20,400Z" fill="#f7f3f9" opacity="0.7"/><path d="M130,300C160,265 252,240 300,240C348,240 412,265 420,300C428,335 378,400 350,450C322,500 283,567 250,600C217,633 182,650 150,650C118,650 65,633 60,600C55,567 108,500 120,450C132,400 100,335 130,300Z" fill="#efc3d6" opacity="0.5"/><path d="M20,600C30,590 60,650 80,700C100,750 112,840 140,900C168,960 207,1015 250,1060C293,1105 342,1143 400,1170C458,1197 533,1218 600,1220C667,1222 770,1181 800,1180C830,1179 813,1203 780,1215C747,1227 667,1252 600,1250C533,1248 447,1232 380,1200C313,1168 247,1110 200,1060C153,1010 130,950 100,900C70,850 33,810 20,760C7,710 10,610 20,600Z" fill="#efc3d6" opacity="0.5"/><path d="M500,1400C350,1367 717,1257 800,1200C883,1143 942,1110 1000,1060C1058,1010 1083,950 1150,900C1217,850 1325,807 1400,760C1475,713 1550,657 1600,620C1650,583 1683,410 1700,540C1717,670 1900,1257 1700,1400C1500,1543 650,1433 500,1400Z" fill="#f0c9dc" opacity="0.5"/><path d="M1450,20C1480,-10 1658,-67 1700,20C1742,107 1713,477 1700,540C1687,603 1650,457 1620,400C1590,343 1548,263 1520,200C1492,137 1420,50 1450,20Z" fill="#ece4f0" opacity="0.6"/></g>
<g transform="translate(918,1095) scale(0.237269)" filter="url(#bl3)"><path d="M1100,960C1117,925 1208,850 1250,830C1292,810 1358,815 1350,840C1342,865 1233,947 1200,980C1167,1013 1167,1043 1150,1040C1133,1037 1083,995 1100,960Z" fill="#fdfcfe" opacity="0.9"/><path d="M800,-20C850,-40 1047,-45 1100,-20C1153,5 1128,93 1120,130C1112,167 1053,172 1050,200C1047,228 1078,277 1100,300C1122,323 1147,317 1180,340C1213,363 1313,430 1300,440C1287,450 1158,407 1100,400C1042,393 990,387 950,400C910,413 885,453 860,480C835,507 823,530 800,560C777,590 740,627 720,660C700,693 683,727 680,760C677,793 703,837 700,860C697,883 670,913 660,900C650,887 650,813 640,780C630,747 590,737 600,700C610,663 678,603 700,560C722,517 717,483 730,440C743,397 765,340 780,300C795,260 817,233 820,200C823,167 803,137 800,100C797,63 750,0 800,-20Z" fill="#fdfcfe" stroke="#a08fc8" stroke-opacity="0.75" stroke-width="22" stroke-linejoin="round"/></g>
<path d="M1245.4 1389.2h50" stroke="#000" stroke-width="2"/>
<text x="1270.4" y="1398.2" font-size="7.6" font-weight="bold" text-anchor="middle">100 µm</text>
</g>
<rect x="926.62" y="1101.48" width="390.16" height="312.81" fill="none" stroke="#000" stroke-width="2.7" stroke-linejoin="round"/>
<clipPath id="cp03"><rect x="1328.15" y="1102.83" width="387.46" height="310.11"/></clipPath>
<g clip-path="url(#cp03)">
<rect x="1327.15" y="1101.83" width="389.46" height="312.11" fill="#857bbe"/>
<g transform="translate(1317,1095) scale(0.237269)" filter="url(#bl)"><path d="M1100,280C1125,263 1233,272 1300,300C1367,328 1450,400 1500,450C1550,500 1567,558 1600,600C1633,642 1683,650 1700,700C1717,750 1723,867 1700,900C1677,933 1587,917 1560,900C1533,883 1558,842 1540,800C1522,758 1490,700 1450,650C1410,600 1350,542 1300,500C1250,458 1183,437 1150,400C1117,363 1075,297 1100,280Z" fill="#ecdcea"/><path d="M720,120C742,80 820,47 850,60C880,73 858,168 900,200C942,232 1058,228 1100,250C1142,272 1158,315 1150,330C1142,345 1075,345 1050,340C1025,335 1055,307 1000,300C945,293 767,330 720,300C673,270 698,160 720,120Z" fill="#e2dcf0"/><path d="M760,440C790,425 935,425 1000,430C1065,435 1167,448 1150,470C1133,492 955,552 900,560C845,568 843,540 820,520C797,500 730,455 760,440Z" fill="#d6cfe9" opacity="0.9"/><path d="M1200,300C1228,292 1308,305 1350,330C1392,355 1442,418 1450,450C1458,482 1428,515 1400,520C1372,525 1317,503 1280,480C1243,457 1193,410 1180,380C1167,350 1172,308 1200,300Z" fill="#eab8d0" opacity="0.8"/><path d="M20,560C37,452 82,697 120,750C158,803 195,838 250,880C305,922 383,967 450,1000C517,1033 575,1050 650,1080C725,1110 825,1160 900,1180C975,1200 1033,1202 1100,1200C1167,1198 1233,1190 1300,1170C1367,1150 1433,1118 1500,1080C1567,1042 1667,887 1700,940C1733,993 1980,1323 1700,1400C1420,1477 300,1540 20,1400C-260,1260 3,668 20,560Z" fill="#d6badb"/><path d="M20,20C42,-20 140,-2 150,20C160,42 102,110 80,150C58,190 30,282 20,260C10,238 -2,60 20,20Z" fill="#e0c0dc"/></g>
<g transform="translate(1317,1095) scale(0.237269)" filter="url(#bl2)" stroke-linecap="round" fill="none"><path d="M150,80L430,55" stroke="#d3cde9" stroke-width="94" stroke-opacity="0.55"/><path d="M150,80L430,55" stroke="#5c52aa" stroke-width="80"/><path d="M150,80L430,55" stroke="#958dca" stroke-opacity="0.45" stroke-width="44"/><path d="M150,80L352,62" stroke="#aea6d8" stroke-width="38"/><path d="M140,180L450,135" stroke="#d3cde9" stroke-width="104" stroke-opacity="0.55"/><path d="M140,180L450,135" stroke="#5c52aa" stroke-width="90"/><path d="M140,180L450,135" stroke="#958dca" stroke-opacity="0.45" stroke-width="54"/><path d="M140,180L363,148" stroke="#aea6d8" stroke-width="48"/><path d="M100,275L440,225" stroke="#d3cde9" stroke-width="99" stroke-opacity="0.55"/><path d="M100,275L440,225" stroke="#5c52aa" stroke-width="85"/><path d="M100,275L440,225" stroke="#958dca" stroke-opacity="0.45" stroke-width="49"/><path d="M100,275L345,239" stroke="#aea6d8" stroke-width="43"/><path d="M90,370L380,340" stroke="#d3cde9" stroke-width="99" stroke-opacity="0.55"/><path d="M90,370L380,340" stroke="#5c52aa" stroke-width="85"/><path d="M90,370L380,340" stroke="#958dca" stroke-opacity="0.45" stroke-width="49"/><path d="M90,370L299,348" stroke="#aea6d8" stroke-width="43"/><path d="M80,460L400,440" stroke="#d3cde9" stroke-width="99" stroke-opacity="0.55"/><path d="M80,460L400,440" stroke="#5c52aa" stroke-width="85"/><path d="M80,460L400,440" stroke="#958dca" stroke-opacity="0.45" stroke-width="49"/><path d="M80,460L310,446" stroke="#aea6d8" stroke-width="43"/><path d="M150,545L530,485" stroke="#d3cde9" stroke-width="99" stroke-opacity="0.55"/><path d="M150,545L530,485" stroke="#5c52aa" stroke-width="85"/><path d="M150,545L530,485" stroke="#958dca" stroke-opacity="0.45" stroke-width="49"/><path d="M150,545L424,502" stroke="#aea6d8" stroke-width="43"/><path d="M240,640L520,600" stroke="#d3cde9" stroke-width="94" stroke-opacity="0.55"/><path d="M240,640L520,600" stroke="#5c52aa" stroke-width="80"/><path d="M240,640L520,600" stroke="#958dca" stroke-opacity="0.45" stroke-width="44"/><path d="M240,640L442,611" stroke="#aea6d8" stroke-width="38"/><path d="M280,725L580,700" stroke="#d3cde9" stroke-width="99" stroke-opacity="0.55"/><path d="M280,725L580,700" stroke="#5c52aa" stroke-width="85"/><path d="M280,725L580,700" stroke="#958dca" stroke-opacity="0.45" stroke-width="49"/><path d="M280,725L496,707" stroke="#aea6d8" stroke-width="43"/><path d="M330,820L620,745" stroke="#d3cde9" stroke-width="99" stroke-opacity="0.55"/><path d="M330,820L620,745" stroke="#5c52aa" stroke-width="85"/><path d="M330,820L620,745" stroke="#958dca" stroke-opacity="0.45" stroke-width="49"/><path d="M330,820L539,766" stroke="#aea6d8" stroke-width="43"/><path d="M450,890L700,770" stroke="#d3cde9" stroke-width="94" stroke-opacity="0.55"/><path d="M450,890L700,770" stroke="#5c52aa" stroke-width="80"/><path d="M450,890L700,770" stroke="#958dca" stroke-opacity="0.45" stroke-width="44"/><path d="M450,890L630,804" stroke="#aea6d8" stroke-width="38"/><path d="M550,935L740,790" stroke="#d3cde9" stroke-width="94" stroke-opacity="0.55"/><path d="M550,935L740,790" stroke="#5c52aa" stroke-width="80"/><path d="M550,935L740,790" stroke="#958dca" stroke-opacity="0.45" stroke-width="44"/><path d="M550,935L687,831" stroke="#aea6d8" stroke-width="38"/><path d="M640,980L790,840" stroke="#d3cde9" stroke-width="94" stroke-opacity="0.55"/><path d="M640,980L790,840" stroke="#5c52aa" stroke-width="80"/><path d="M640,980L790,840" stroke="#958dca" stroke-opacity="0.45" stroke-width="44"/><path d="M640,980L748,879" stroke="#aea6d8" stroke-width="38"/><path d="M720,1020L830,870" stroke="#d3cde9" stroke-width="94" stroke-opacity="0.55"/><path d="M720,1020L830,870" stroke="#5c52aa" stroke-width="80"/><path d="M720,1020L830,870" stroke="#958dca" stroke-opacity="0.45" stroke-width="44"/><path d="M720,1020L799,912" stroke="#aea6d8" stroke-width="38"/><path d="M800,1060L870,900" stroke="#d3cde9" stroke-width="94" stroke-opacity="0.55"/><path d="M800,1060L870,900" stroke="#5c52aa" stroke-width="80"/><path d="M800,1060L870,900" stroke="#958dca" stroke-opacity="0.45" stroke-width="44"/><path d="M800,1060L850,945" stroke="#aea6d8" stroke-width="38"/><path d="M930,1120L940,1000" stroke="#d3cde9" stroke-width="114" stroke-opacity="0.55"/><path d="M930,1120L940,1000" stroke="#5c52aa" stroke-width="100"/><path d="M930,1120L940,1000" stroke="#958dca" stroke-opacity="0.45" stroke-width="64"/><path d="M930,1120L940,1000" stroke="#aea6d8" stroke-width="58"/><path d="M1090,1130L1080,970" stroke="#d3cde9" stroke-width="119" stroke-opacity="0.55"/><path d="M1090,1130L1080,970" stroke="#5c52aa" stroke-width="105"/><path d="M1090,1130L1080,970" stroke="#958dca" stroke-opacity="0.45" stroke-width="69"/><path d="M1090,1130L1083,1015" stroke="#aea6d8" stroke-width="63"/><path d="M1300,1100L1280,980" stroke="#d3cde9" stroke-width="114" stroke-opacity="0.55"/><path d="M1300,1100L1280,980" stroke="#5c52aa" stroke-width="100"/><path d="M1300,1100L1280,980" stroke="#958dca" stroke-opacity="0.45" stroke-width="64"/><path d="M1300,1100L1280,980" stroke="#aea6d8" stroke-width="58"/><path d="M870,80L1080,200" stroke="#d3cde9" stroke-width="104" stroke-opacity="0.55"/><path d="M870,80L1080,200" stroke="#5c52aa" stroke-width="90"/><path d="M870,80L1080,200" stroke="#958dca" stroke-opacity="0.45" stroke-width="54"/><path d="M870,80L1021,166" stroke="#aea6d8" stroke-width="48"/><path d="M730,350L1010,350" stroke="#d3cde9" stroke-width="84" stroke-opacity="0.55"/><path d="M730,350L1010,350" stroke="#5c52aa" stroke-width="70"/><path d="M730,350L1010,350" stroke="#958dca" stroke-opacity="0.45" stroke-width="34"/><path d="M730,350L932,350" stroke="#aea6d8" stroke-width="28"/><path d="M750,410L1010,400" stroke="#d3cde9" stroke-width="74" stroke-opacity="0.55"/><path d="M750,410L1010,400" stroke="#5c52aa" stroke-width="60"/><path d="M750,410L1010,400" stroke="#958dca" stroke-opacity="0.45" stroke-width="24"/><path d="M750,410L937,403" stroke="#aea6d8" stroke-width="18"/><path d="M900,585L1220,545" stroke="#d3cde9" stroke-width="94" stroke-opacity="0.55"/><path d="M900,585L1220,545" stroke="#5c52aa" stroke-width="80"/><path d="M900,585L1220,545" stroke="#958dca" stroke-opacity="0.45" stroke-width="44"/><path d="M900,585L1130,556" stroke="#aea6d8" stroke-width="38"/><path d="M1000,665L1340,625" stroke="#d3cde9" stroke-width="104" stroke-opacity="0.55"/><path d="M1000,665L1340,625" stroke="#5c52aa" stroke-width="90"/><path d="M1000,665L1340,625" stroke="#958dca" stroke-opacity="0.45" stroke-width="54"/><path d="M1000,665L1245,636" stroke="#aea6d8" stroke-width="48"/><path d="M1060,765L1400,725" stroke="#d3cde9" stroke-width="104" stroke-opacity="0.55"/><path d="M1060,765L1400,725" stroke="#5c52aa" stroke-width="90"/><path d="M1060,765L1400,725" stroke="#958dca" stroke-opacity="0.45" stroke-width="54"/><path d="M1060,765L1305,736" stroke="#aea6d8" stroke-width="48"/><path d="M1200,815L1480,860" stroke="#d3cde9" stroke-width="104" stroke-opacity="0.55"/><path d="M1200,815L1480,860" stroke="#5c52aa" stroke-width="90"/><path d="M1200,815L1480,860" stroke="#958dca" stroke-opacity="0.45" stroke-width="54"/><path d="M1200,815L1402,847" stroke="#aea6d8" stroke-width="48"/><path d="M1160,60L1200,180" stroke="#d3cde9" stroke-width="84" stroke-opacity="0.55"/><path d="M1160,60L1200,180" stroke="#5c52aa" stroke-width="70"/><path d="M1160,60L1200,180" stroke="#958dca" stroke-opacity="0.45" stroke-width="34"/><path d="M1160,60L1200,180" stroke="#aea6d8" stroke-width="28"/><path d="M1350,60L1330,200" stroke="#d3cde9" stroke-width="84" stroke-opacity="0.55"/><path d="M1350,60L1330,200" stroke="#5c52aa" stroke-width="70"/><path d="M1350,60L1330,200" stroke="#958dca" stroke-opacity="0.45" stroke-width="34"/><path d="M1350,60L1330,200" stroke="#aea6d8" stroke-width="28"/><path d="M1440,200L1420,330" stroke="#d3cde9" stroke-width="84" stroke-opacity="0.55"/><path d="M1440,200L1420,330" stroke="#5c52aa" stroke-width="70"/><path d="M1440,200L1420,330" stroke="#958dca" stroke-opacity="0.45" stroke-width="34"/><path d="M1440,200L1420,330" stroke="#aea6d8" stroke-width="28"/><path d="M1520,200L1500,420" stroke="#d3cde9" stroke-width="89" stroke-opacity="0.55"/><path d="M1520,200L1500,420" stroke="#5c52aa" stroke-width="75"/><path d="M1520,200L1500,420" stroke="#958dca" stroke-opacity="0.45" stroke-width="39"/><path d="M1520,200L1506,358" stroke="#aea6d8" stroke-width="33"/><path d="M1620,300L1640,600" stroke="#d3cde9" stroke-width="94" stroke-opacity="0.55"/><path d="M1620,300L1640,600" stroke="#5c52aa" stroke-width="80"/><path d="M1620,300L1640,600" stroke="#958dca" stroke-opacity="0.45" stroke-width="44"/><path d="M1620,300L1634,516" stroke="#aea6d8" stroke-width="38"/><path d="M1510,940L1520,950" stroke="#d3cde9" stroke-width="84" stroke-opacity="0.55"/><path d="M1510,940L1520,950" stroke="#5c52aa" stroke-width="70"/><path d="M1510,940L1520,950" stroke="#958dca" stroke-opacity="0.45" stroke-width="34"/><path d="M1510,940L1520,950" stroke="#aea6d8" stroke-width="28"/></g>
<rect x="1327.15" y="1101.83" width="389.46" height="312.11" filter="url(#sp3)" opacity="0.62"/>
<g transform="translate(1317,1095) scale(0.237269)" filter="url(#bl)"><path d="M1100,280C1125,263 1233,272 1300,300C1367,328 1450,400 1500,450C1550,500 1567,558 1600,600C1633,642 1683,650 1700,700C1717,750 1723,867 1700,900C1677,933 1587,917 1560,900C1533,883 1558,842 1540,800C1522,758 1490,700 1450,650C1410,600 1350,542 1300,500C1250,458 1183,437 1150,400C1117,363 1075,297 1100,280Z" fill="#ecdcea" opacity="0.5"/><path d="M720,120C742,80 820,47 850,60C880,73 858,168 900,200C942,232 1058,228 1100,250C1142,272 1158,315 1150,330C1142,345 1075,345 1050,340C1025,335 1055,307 1000,300C945,293 767,330 720,300C673,270 698,160 720,120Z" fill="#e2dcf0" opacity="0.3"/><path d="M20,560C37,452 82,697 120,750C158,803 195,838 250,880C305,922 383,967 450,1000C517,1033 575,1050 650,1080C725,1110 825,1160 900,1180C975,1200 1033,1202 1100,1200C1167,1198 1233,1190 1300,1170C1367,1150 1433,1118 1500,1080C1567,1042 1667,887 1700,940C1733,993 1980,1323 1700,1400C1420,1477 300,1540 20,1400C-260,1260 3,668 20,560Z" fill="#d6badb" opacity="0.5"/><path d="M20,20C42,-20 140,-2 150,20C160,42 102,110 80,150C58,190 30,282 20,260C10,238 -2,60 20,20Z" fill="#e0c0dc" opacity="0.5"/></g>
<g transform="translate(1317,1095) scale(0.237269)" filter="url(#bl3)"><path d="M200,830C237,847 333,925 400,960C467,995 533,1015 600,1040C667,1065 770,1094 800,1110C830,1126 820,1142 780,1135C740,1128 632,1092 560,1065C488,1038 413,1009 350,975C287,941 205,884 180,860C155,836 163,813 200,830Z" fill="#fdfcfe" opacity="0.9"/><path d="M20,760C42,682 103,897 150,950C197,1003 242,1038 300,1080C358,1122 433,1168 500,1200C567,1232 633,1252 700,1270C767,1288 817,1305 900,1310C983,1315 1108,1312 1200,1300C1292,1288 1367,1273 1450,1240C1533,1207 1658,1070 1700,1100C1742,1130 1980,1367 1700,1420C1420,1473 300,1530 20,1420C-260,1310 -2,838 20,760Z" fill="#fdfcfe"/><path d="M1500,-20C1520,-43 1683,-58 1720,-20C1757,18 1740,187 1720,210C1700,233 1637,158 1600,120C1563,82 1480,3 1500,-20Z" fill="#fdfcfe"/><path d="M500,-20C562,-40 807,-40 850,-20C893,0 785,63 760,100C735,137 713,162 700,200C687,238 677,290 680,330C683,370 700,402 720,440C740,478 770,525 800,560C830,595 867,620 900,650C933,680 970,717 1000,740C1030,763 1047,775 1080,790C1113,805 1157,815 1200,830C1243,845 1307,863 1340,880C1373,897 1393,917 1400,930C1407,943 1397,960 1380,960C1363,960 1325,933 1300,930C1275,927 1247,932 1230,940C1213,948 1222,985 1200,980C1178,975 1127,918 1100,910C1073,902 1057,917 1040,930C1023,943 1013,985 1000,990C987,995 967,982 960,960C953,938 970,888 960,860C950,832 927,820 900,790C873,760 830,708 800,680C770,652 743,625 720,620C697,615 673,637 660,650C647,663 653,693 640,700C627,707 597,700 580,690C563,680 538,662 540,640C542,618 587,590 590,560C593,530 575,483 560,460C545,437 527,432 500,420C473,408 418,405 400,390C382,375 382,348 390,330C398,312 433,302 450,280C467,258 485,230 490,200C495,170 478,137 480,100C482,63 438,0 500,-20Z" fill="#fdfcfe" stroke="#8474bd" stroke-opacity="0.75" stroke-width="26" stroke-linejoin="round"/></g>
<path d="M1645.6 1389.2h50" stroke="#000" stroke-width="2"/>
<text x="1670.6" y="1398.2" font-size="7.6" font-weight="bold" text-anchor="middle">100 µm</text>
</g>
<rect x="1326.80" y="1101.48" width="390.16" height="312.81" fill="none" stroke="#000" stroke-width="2.7" stroke-linejoin="round"/>
<clipPath id="cp10"><rect x="129.97" y="1425.86" width="387.46" height="310.44"/></clipPath>
<g clip-path="url(#cp10)">
<rect x="128.97" y="1424.86" width="389.46" height="312.44" fill="#8c7cbd"/>
<g transform="translate(120,1414) scale(0.237269)" filter="url(#bl)"><path d="M20,1130C67,1080 220,1118 300,1100C380,1082 433,1045 500,1020C567,995 633,968 700,950C767,932 833,923 900,910C967,897 1033,883 1100,870C1167,857 1233,852 1300,830C1367,808 1433,775 1500,740C1567,705 1667,510 1700,620C1733,730 1980,1270 1700,1400C1420,1530 300,1445 20,1400C-260,1355 -27,1180 20,1130Z" fill="#e2c8e0"/><path d="M20,30C72,-7 283,10 330,30C377,50 330,118 300,150C270,182 197,203 150,220C103,237 42,282 20,250C-2,218 -32,67 20,30Z" fill="#e6bfd6"/></g>
<g transform="translate(120,1414) scale(0.237269)" filter="url(#bl2)" stroke-linecap="round" fill="none"><path d="M120,770L180,1070" stroke="#d3cde9" stroke-width="104" stroke-opacity="0.55"/><path d="M120,770L180,1070" stroke="#6a58ac" stroke-width="90"/><path d="M120,770L180,1070" stroke="#b4a6d9" stroke-opacity="0.45" stroke-width="54"/><path d="M120,770L163,986" stroke="#c9bee4" stroke-width="48"/><path d="M295,650L400,1000" stroke="#d3cde9" stroke-width="114" stroke-opacity="0.55"/><path d="M295,650L400,1000" stroke="#6a58ac" stroke-width="100"/><path d="M295,650L400,1000" stroke="#b4a6d9" stroke-opacity="0.45" stroke-width="64"/><path d="M295,650L371,902" stroke="#c9bee4" stroke-width="58"/><path d="M470,570L600,900" stroke="#d3cde9" stroke-width="114" stroke-opacity="0.55"/><path d="M470,570L600,900" stroke="#6a58ac" stroke-width="100"/><path d="M470,570L600,900" stroke="#b4a6d9" stroke-opacity="0.45" stroke-width="64"/><path d="M470,570L564,808" stroke="#c9bee4" stroke-width="58"/><path d="M615,490L780,860" stroke="#d3cde9" stroke-width="114" stroke-opacity="0.55"/><path d="M615,490L780,860" stroke="#6a58ac" stroke-width="100"/><path d="M615,490L780,860" stroke="#b4a6d9" stroke-opacity="0.45" stroke-width="64"/><path d="M615,490L734,756" stroke="#c9bee4" stroke-width="58"/><path d="M770,430L900,840" stroke="#d3cde9" stroke-width="114" stroke-opacity="0.55"/><path d="M770,430L900,840" stroke="#6a58ac" stroke-width="100"/><path d="M770,430L900,840" stroke="#b4a6d9" stroke-opacity="0.45" stroke-width="64"/><path d="M770,430L864,725" stroke="#c9bee4" stroke-width="58"/><path d="M900,420L1000,830" stroke="#d3cde9" stroke-width="104" stroke-opacity="0.55"/><path d="M900,420L1000,830" stroke="#6a58ac" stroke-width="90"/><path d="M900,420L1000,830" stroke="#b4a6d9" stroke-opacity="0.45" stroke-width="54"/><path d="M900,420L972,715" stroke="#c9bee4" stroke-width="48"/><path d="M1000,410L1130,820" stroke="#d3cde9" stroke-width="104" stroke-opacity="0.55"/><path d="M1000,410L1130,820" stroke="#6a58ac" stroke-width="90"/><path d="M1000,410L1130,820" stroke="#b4a6d9" stroke-opacity="0.45" stroke-width="54"/><path d="M1000,410L1094,705" stroke="#c9bee4" stroke-width="48"/><path d="M1190,440L1260,790" stroke="#d3cde9" stroke-width="104" stroke-opacity="0.55"/><path d="M1190,440L1260,790" stroke="#6a58ac" stroke-width="90"/><path d="M1190,440L1260,790" stroke="#b4a6d9" stroke-opacity="0.45" stroke-width="54"/><path d="M1190,440L1240,692" stroke="#c9bee4" stroke-width="48"/><path d="M1300,490L1380,760" stroke="#d3cde9" stroke-width="104" stroke-opacity="0.55"/><path d="M1300,490L1380,760" stroke="#6a58ac" stroke-width="90"/><path d="M1300,490L1380,760" stroke="#b4a6d9" stroke-opacity="0.45" stroke-width="54"/><path d="M1300,490L1358,684" stroke="#c9bee4" stroke-width="48"/><path d="M1420,570L1430,750" stroke="#d3cde9" stroke-width="94" stroke-opacity="0.55"/><path d="M1420,570L1430,750" stroke="#6a58ac" stroke-width="80"/><path d="M1420,570L1430,750" stroke="#b4a6d9" stroke-opacity="0.45" stroke-width="44"/><path d="M1420,570L1427,700" stroke="#c9bee4" stroke-width="38"/><path d="M420,170L560,260" stroke="#d3cde9" stroke-width="99" stroke-opacity="0.55"/><path d="M420,170L560,260" stroke="#6a58ac" stroke-width="85"/><path d="M420,170L560,260" stroke="#b4a6d9" stroke-opacity="0.45" stroke-width="49"/><path d="M420,170L521,235" stroke="#c9bee4" stroke-width="43"/><path d="M600,110L620,160" stroke="#d3cde9" stroke-width="94" stroke-opacity="0.55"/><path d="M600,110L620,160" stroke="#6a58ac" stroke-width="80"/><path d="M600,110L620,160" stroke="#b4a6d9" stroke-opacity="0.45" stroke-width="44"/><path d="M600,110L620,160" stroke="#c9bee4" stroke-width="38"/><path d="M220,310L340,270" stroke="#d3cde9" stroke-width="89" stroke-opacity="0.55"/><path d="M220,310L340,270" stroke="#6a58ac" stroke-width="75"/><path d="M220,310L340,270" stroke="#b4a6d9" stroke-opacity="0.45" stroke-width="39"/><path d="M220,310L340,270" stroke="#c9bee4" stroke-width="33"/><path d="M150,420L250,480" stroke="#d3cde9" stroke-width="94" stroke-opacity="0.55"/><path d="M150,420L250,480" stroke="#6a58ac" stroke-width="80"/><path d="M150,420L250,480" stroke="#b4a6d9" stroke-opacity="0.45" stroke-width="44"/><path d="M150,420L250,480" stroke="#c9bee4" stroke-width="38"/><path d="M330,400L420,420" stroke="#d3cde9" stroke-width="84" stroke-opacity="0.55"/><path d="M330,400L420,420" stroke="#6a58ac" stroke-width="70"/><path d="M330,400L420,420" stroke="#b4a6d9" stroke-opacity="0.45" stroke-width="34"/><path d="M330,400L420,420" stroke="#c9bee4" stroke-width="28"/><path d="M1400,130L1480,190" stroke="#d3cde9" stroke-width="94" stroke-opacity="0.55"/><path d="M1400,130L1480,190" stroke="#6a58ac" stroke-width="80"/><path d="M1400,130L1480,190" stroke="#b4a6d9" stroke-opacity="0.45" stroke-width="44"/><path d="M1400,130L1480,190" stroke="#c9bee4" stroke-width="38"/><path d="M1600,210L1640,500" stroke="#d3cde9" stroke-width="99" stroke-opacity="0.55"/><path d="M1600,210L1640,500" stroke="#6a58ac" stroke-width="85"/><path d="M1600,210L1640,500" stroke="#b4a6d9" stroke-opacity="0.45" stroke-width="49"/><path d="M1600,210L1629,419" stroke="#c9bee4" stroke-width="43"/><path d="M1560,600L1600,640" stroke="#d3cde9" stroke-width="94" stroke-opacity="0.55"/><path d="M1560,600L1600,640" stroke="#6a58ac" stroke-width="80"/><path d="M1560,600L1600,640" stroke="#b4a6d9" stroke-opacity="0.45" stroke-width="44"/><path d="M1560,600L1600,640" stroke="#c9bee4" stroke-width="38"/><path d="M60,880L80,1060" stroke="#d3cde9" stroke-width="84" stroke-opacity="0.55"/><path d="M60,880L80,1060" stroke="#6a58ac" stroke-width="70"/><path d="M60,880L80,1060" stroke="#b4a6d9" stroke-opacity="0.45" stroke-width="34"/><path d="M60,880L74,1010" stroke="#c9bee4" stroke-width="28"/></g>
<rect x="128.97" y="1424.86" width="389.46" height="312.44" filter="url(#sp0)" opacity="0.62"/>
<g transform="translate(120,1414) scale(0.237269)" filter="url(#bl)"><path d="M20,1130C67,1080 220,1118 300,1100C380,1082 433,1045 500,1020C567,995 633,968 700,950C767,932 833,923 900,910C967,897 1033,883 1100,870C1167,857 1233,852 1300,830C1367,808 1433,775 1500,740C1567,705 1667,510 1700,620C1733,730 1980,1270 1700,1400C1420,1530 300,1445 20,1400C-260,1355 -27,1180 20,1130Z" fill="#e2c8e0" opacity="0.55"/><path d="M20,30C72,-7 283,10 330,30C377,50 330,118 300,150C270,182 197,203 150,220C103,237 42,282 20,250C-2,218 -32,67 20,30Z" fill="#e6bfd6" opacity="0.5"/></g>
<g transform="translate(120,1414) scale(0.237269)" filter="url(#bl3)"><path d="M1260,1290C1275,1290 1342,1398 1340,1420C1338,1442 1263,1442 1250,1420C1237,1398 1245,1290 1260,1290Z" fill="#fdfcfe"/><path d="M940,1230C973,1225 1107,1225 1140,1230C1173,1235 1173,1255 1140,1260C1107,1265 973,1265 940,1260C907,1255 907,1235 940,1230Z" fill="#fdfcfe" opacity="0.8"/><path d="M730,-20C843,-57 1302,-45 1400,-20C1498,5 1333,90 1320,130C1307,170 1307,195 1320,220C1333,245 1370,273 1400,280C1430,287 1478,250 1500,260C1522,270 1530,310 1530,340C1530,370 1522,415 1500,440C1478,465 1433,490 1400,490C1367,490 1333,455 1300,440C1267,425 1250,412 1200,400C1150,388 1067,373 1000,370C933,367 858,370 800,380C742,390 700,412 650,430C600,448 545,468 500,490C455,512 422,538 380,560C338,582 288,598 250,620C212,642 180,670 150,690C120,710 98,722 70,740C42,758 -5,827 -20,800C-35,773 -53,618 -20,580C13,542 118,580 180,570C242,560 297,545 350,520C403,495 452,453 500,420C548,387 603,357 640,320C677,283 705,257 720,200C735,143 617,17 730,-20Z" fill="#fdfcfe" stroke="#9a74ba" stroke-opacity="0.75" stroke-width="26" stroke-linejoin="round"/><path d="M230,640C245,673 293,857 300,900C307,943 285,933 270,900C255,867 217,743 210,700C203,657 215,607 230,640Z" fill="#fdfcfe" opacity="0.8"/><path d="M400,590C420,613 488,730 500,760C512,790 490,793 470,770C450,747 392,650 380,620C368,590 380,567 400,590Z" fill="#fdfcfe" opacity="0.8"/></g>
<path d="M447.4 1712.2h50" stroke="#000" stroke-width="2"/>
<text x="472.4" y="1721.2" font-size="7.6" font-weight="bold" text-anchor="middle">100 µm</text>
</g>
<rect x="128.62" y="1424.51" width="390.16" height="313.14" fill="none" stroke="#000" stroke-width="2.7" stroke-linejoin="round"/>
<clipPath id="cp11"><rect x="528.97" y="1425.86" width="387.46" height="310.44"/></clipPath>
<g clip-path="url(#cp11)">
<rect x="527.97" y="1424.86" width="389.46" height="312.44" fill="#8f7ebe"/>
<g transform="translate(519,1414) scale(0.237269)" filter="url(#bl)"><path d="M20,1000C42,950 103,1067 150,1100C197,1133 242,1175 300,1200C358,1225 433,1247 500,1250C567,1253 633,1237 700,1220C767,1203 842,1178 900,1150C958,1122 1008,1092 1050,1050C1092,1008 1117,950 1150,900C1183,850 1208,797 1250,750C1292,703 1325,667 1400,620C1475,573 1650,340 1700,470C1750,600 1980,1245 1700,1400C1420,1555 300,1467 20,1400C-260,1333 -2,1050 20,1000Z" fill="#dcc8e4"/><path d="M950,400C975,385 1058,363 1100,380C1142,397 1170,460 1200,500C1230,540 1272,577 1280,620C1288,663 1267,747 1250,760C1233,773 1213,733 1180,700C1147,667 1088,598 1050,560C1012,522 967,497 950,470C933,443 925,415 950,400Z" fill="#e4c4df"/><path d="M20,30C37,-32 113,2 120,30C127,58 77,138 60,200C43,262 27,428 20,400C13,372 3,92 20,30Z" fill="#d8c0e0" opacity="0.8"/></g>
<g transform="translate(519,1414) scale(0.237269)" filter="url(#bl2)" stroke-linecap="round" fill="none"><path d="M130,180L350,260" stroke="#d3cde9" stroke-width="94" stroke-opacity="0.55"/><path d="M130,180L350,260" stroke="#6a58ac" stroke-width="80"/><path d="M130,180L350,260" stroke="#b8a8da" stroke-opacity="0.45" stroke-width="44"/><path d="M130,180L288,238" stroke="#cbbfe4" stroke-width="38"/><path d="M120,300L400,340" stroke="#d3cde9" stroke-width="94" stroke-opacity="0.55"/><path d="M120,300L400,340" stroke="#6a58ac" stroke-width="80"/><path d="M120,300L400,340" stroke="#b8a8da" stroke-opacity="0.45" stroke-width="44"/><path d="M120,300L322,329" stroke="#cbbfe4" stroke-width="38"/><path d="M100,420L380,430" stroke="#d3cde9" stroke-width="94" stroke-opacity="0.55"/><path d="M100,420L380,430" stroke="#6a58ac" stroke-width="80"/><path d="M100,420L380,430" stroke="#b8a8da" stroke-opacity="0.45" stroke-width="44"/><path d="M100,420L302,427" stroke="#cbbfe4" stroke-width="38"/><path d="M60,620L160,680" stroke="#d3cde9" stroke-width="94" stroke-opacity="0.55"/><path d="M60,620L160,680" stroke="#6a58ac" stroke-width="80"/><path d="M60,620L160,680" stroke="#b8a8da" stroke-opacity="0.45" stroke-width="44"/><path d="M60,620L160,680" stroke="#cbbfe4" stroke-width="38"/><path d="M200,760L400,700" stroke="#d3cde9" stroke-width="94" stroke-opacity="0.55"/><path d="M200,760L400,700" stroke="#6a58ac" stroke-width="80"/><path d="M200,760L400,700" stroke="#b8a8da" stroke-opacity="0.45" stroke-width="44"/><path d="M200,760L344,717" stroke="#cbbfe4" stroke-width="38"/><path d="M220,880L380,820" stroke="#d3cde9" stroke-width="94" stroke-opacity="0.55"/><path d="M220,880L380,820" stroke="#6a58ac" stroke-width="80"/><path d="M220,880L380,820" stroke="#b8a8da" stroke-opacity="0.45" stroke-width="44"/><path d="M220,880L335,837" stroke="#cbbfe4" stroke-width="38"/><path d="M240,1060L330,900" stroke="#d3cde9" stroke-width="94" stroke-opacity="0.55"/><path d="M240,1060L330,900" stroke="#6a58ac" stroke-width="80"/><path d="M240,1060L330,900" stroke="#b8a8da" stroke-opacity="0.45" stroke-width="44"/><path d="M240,1060L305,945" stroke="#cbbfe4" stroke-width="38"/><path d="M420,1100L520,1120" stroke="#d3cde9" stroke-width="94" stroke-opacity="0.55"/><path d="M420,1100L520,1120" stroke="#6a58ac" stroke-width="80"/><path d="M420,1100L520,1120" stroke="#b8a8da" stroke-opacity="0.45" stroke-width="44"/><path d="M420,1100L520,1120" stroke="#cbbfe4" stroke-width="38"/><path d="M620,1060L640,1160" stroke="#d3cde9" stroke-width="94" stroke-opacity="0.55"/><path d="M620,1060L640,1160" stroke="#6a58ac" stroke-width="80"/><path d="M620,1060L640,1160" stroke="#b8a8da" stroke-opacity="0.45" stroke-width="44"/><path d="M620,1060L640,1160" stroke="#cbbfe4" stroke-width="38"/><path d="M780,1000L800,1120" stroke="#d3cde9" stroke-width="94" stroke-opacity="0.55"/><path d="M780,1000L800,1120" stroke="#6a58ac" stroke-width="80"/><path d="M780,1000L800,1120" stroke="#b8a8da" stroke-opacity="0.45" stroke-width="44"/><path d="M780,1000L800,1120" stroke="#cbbfe4" stroke-width="38"/><path d="M700,290L900,420" stroke="#d3cde9" stroke-width="94" stroke-opacity="0.55"/><path d="M700,290L900,420" stroke="#6a58ac" stroke-width="80"/><path d="M700,290L900,420" stroke="#b8a8da" stroke-opacity="0.45" stroke-width="44"/><path d="M700,290L844,384" stroke="#cbbfe4" stroke-width="38"/><path d="M900,130L920,320" stroke="#d3cde9" stroke-width="94" stroke-opacity="0.55"/><path d="M900,130L920,320" stroke="#6a58ac" stroke-width="80"/><path d="M900,130L920,320" stroke="#b8a8da" stroke-opacity="0.45" stroke-width="44"/><path d="M900,130L914,267" stroke="#cbbfe4" stroke-width="38"/><path d="M1000,130L1020,330" stroke="#d3cde9" stroke-width="94" stroke-opacity="0.55"/><path d="M1000,130L1020,330" stroke="#6a58ac" stroke-width="80"/><path d="M1000,130L1020,330" stroke="#b8a8da" stroke-opacity="0.45" stroke-width="44"/><path d="M1000,130L1014,274" stroke="#cbbfe4" stroke-width="38"/><path d="M1130,100L1160,420" stroke="#d3cde9" stroke-width="94" stroke-opacity="0.55"/><path d="M1130,100L1160,420" stroke="#6a58ac" stroke-width="80"/><path d="M1130,100L1160,420" stroke="#b8a8da" stroke-opacity="0.45" stroke-width="44"/><path d="M1130,100L1152,330" stroke="#cbbfe4" stroke-width="38"/><path d="M1220,300L1230,480" stroke="#d3cde9" stroke-width="89" stroke-opacity="0.55"/><path d="M1220,300L1230,480" stroke="#6a58ac" stroke-width="75"/><path d="M1220,300L1230,480" stroke="#b8a8da" stroke-opacity="0.45" stroke-width="39"/><path d="M1220,300L1227,430" stroke="#cbbfe4" stroke-width="33"/><path d="M690,610L1100,640" stroke="#d3cde9" stroke-width="94" stroke-opacity="0.55"/><path d="M690,610L1100,640" stroke="#6a58ac" stroke-width="80"/><path d="M690,610L1100,640" stroke="#b8a8da" stroke-opacity="0.45" stroke-width="44"/><path d="M690,610L985,632" stroke="#cbbfe4" stroke-width="38"/><path d="M740,710L1130,760" stroke="#d3cde9" stroke-width="94" stroke-opacity="0.55"/><path d="M740,710L1130,760" stroke="#6a58ac" stroke-width="80"/><path d="M740,710L1130,760" stroke="#b8a8da" stroke-opacity="0.45" stroke-width="44"/><path d="M740,710L1021,746" stroke="#cbbfe4" stroke-width="38"/><path d="M760,810L1100,880" stroke="#d3cde9" stroke-width="94" stroke-opacity="0.55"/><path d="M760,810L1100,880" stroke="#6a58ac" stroke-width="80"/><path d="M760,810L1100,880" stroke="#b8a8da" stroke-opacity="0.45" stroke-width="44"/><path d="M760,810L1005,860" stroke="#cbbfe4" stroke-width="38"/><path d="M900,930L1040,990" stroke="#d3cde9" stroke-width="94" stroke-opacity="0.55"/><path d="M900,930L1040,990" stroke="#6a58ac" stroke-width="80"/><path d="M900,930L1040,990" stroke="#b8a8da" stroke-opacity="0.45" stroke-width="44"/><path d="M900,930L1001,973" stroke="#cbbfe4" stroke-width="38"/><path d="M1420,120L1640,160" stroke="#d3cde9" stroke-width="94" stroke-opacity="0.55"/><path d="M1420,120L1640,160" stroke="#6a58ac" stroke-width="80"/><path d="M1420,120L1640,160" stroke="#b8a8da" stroke-opacity="0.45" stroke-width="44"/><path d="M1420,120L1578,149" stroke="#cbbfe4" stroke-width="38"/><path d="M1600,300L1640,420" stroke="#d3cde9" stroke-width="94" stroke-opacity="0.55"/><path d="M1600,300L1640,420" stroke="#6a58ac" stroke-width="80"/><path d="M1600,300L1640,420" stroke="#b8a8da" stroke-opacity="0.45" stroke-width="44"/><path d="M1600,300L1640,420" stroke="#cbbfe4" stroke-width="38"/><path d="M1330,400L1500,460" stroke="#d3cde9" stroke-width="104" stroke-opacity="0.55"/><path d="M1330,400L1500,460" stroke="#6a58ac" stroke-width="90"/><path d="M1330,400L1500,460" stroke="#b8a8da" stroke-opacity="0.45" stroke-width="54"/><path d="M1330,400L1452,443" stroke="#cbbfe4" stroke-width="48"/><path d="M1320,520L1400,560" stroke="#d3cde9" stroke-width="94" stroke-opacity="0.55"/><path d="M1320,520L1400,560" stroke="#6a58ac" stroke-width="80"/><path d="M1320,520L1400,560" stroke="#b8a8da" stroke-opacity="0.45" stroke-width="44"/><path d="M1320,520L1400,560" stroke="#cbbfe4" stroke-width="38"/><path d="M230,100L500,120" stroke="#d3cde9" stroke-width="94" stroke-opacity="0.55"/><path d="M230,100L500,120" stroke="#6a58ac" stroke-width="80"/><path d="M230,100L500,120" stroke="#b8a8da" stroke-opacity="0.45" stroke-width="44"/><path d="M230,100L424,114" stroke="#cbbfe4" stroke-width="38"/></g>
<rect x="527.97" y="1424.86" width="389.46" height="312.44" filter="url(#sp1)" opacity="0.62"/>
<g transform="translate(519,1414) scale(0.237269)" filter="url(#bl)"><path d="M20,1000C42,950 103,1067 150,1100C197,1133 242,1175 300,1200C358,1225 433,1247 500,1250C567,1253 633,1237 700,1220C767,1203 842,1178 900,1150C958,1122 1008,1092 1050,1050C1092,1008 1117,950 1150,900C1183,850 1208,797 1250,750C1292,703 1325,667 1400,620C1475,573 1650,340 1700,470C1750,600 1980,1245 1700,1400C1420,1555 300,1467 20,1400C-260,1333 -2,1050 20,1000Z" fill="#dcc8e4" opacity="0.55"/><path d="M950,400C975,385 1058,363 1100,380C1142,397 1170,460 1200,500C1230,540 1272,577 1280,620C1288,663 1267,747 1250,760C1233,773 1213,733 1180,700C1147,667 1088,598 1050,560C1012,522 967,497 950,470C933,443 925,415 950,400Z" fill="#e4c4df" opacity="0.45"/></g>
<g transform="translate(519,1414) scale(0.237269)" filter="url(#bl3)"><path d="M1720,970C1683,917 1550,1062 1500,1100C1450,1138 1445,1170 1420,1200C1395,1230 1382,1243 1350,1280C1318,1317 1168,1397 1230,1420C1292,1443 1638,1495 1720,1420C1802,1345 1757,1023 1720,970Z" fill="#fdfcfe"/><path d="M1100,1000C1125,975 1233,910 1300,860C1367,810 1433,747 1500,700C1567,653 1667,593 1700,580C1733,567 1733,593 1700,620C1667,647 1567,695 1500,740C1433,785 1358,845 1300,890C1242,935 1183,992 1150,1010C1117,1028 1075,1025 1100,1000Z" fill="#fdfcfe" opacity="0.9"/><path d="M260,1290C280,1282 385,1268 420,1270C455,1272 490,1292 470,1300C450,1308 335,1322 300,1320C265,1318 240,1298 260,1290Z" fill="#fdfcfe" opacity="0.9"/><path d="M610,-20C655,-40 818,-53 850,-20C882,13 825,138 800,180C775,222 727,210 700,230C673,250 653,265 640,300C627,335 615,403 620,440C625,477 665,493 670,520C675,547 645,570 650,600C655,630 692,667 700,700C708,733 683,773 700,800C717,827 780,840 800,860C820,880 837,905 820,920C803,935 737,935 700,950C663,965 633,995 600,1010C567,1025 530,1042 500,1040C470,1038 437,1020 420,1000C403,980 390,947 400,920C410,893 463,872 480,840C497,808 507,763 500,730C493,697 465,660 440,640C415,620 387,617 350,610C313,603 247,612 220,600C193,588 185,558 190,540C195,522 218,500 250,490C282,480 345,492 380,480C415,468 442,450 460,420C478,390 490,330 490,300C490,270 452,257 460,240C468,223 520,223 540,200C560,177 568,137 580,100C592,63 565,0 610,-20Z" fill="#fdfcfe" stroke="#9a78bd" stroke-opacity="0.75" stroke-width="26" stroke-linejoin="round"/><path d="M1180,-20C1197,-50 1350,-48 1380,-20C1410,8 1357,107 1360,150C1363,193 1373,225 1400,240C1427,255 1500,233 1520,240C1540,247 1532,267 1520,280C1508,293 1473,317 1450,320C1427,323 1402,310 1380,300C1358,290 1337,283 1320,260C1303,237 1303,207 1280,160C1257,113 1163,10 1180,-20Z" fill="#fdfcfe" stroke="#9a78bd" stroke-opacity="0.75" stroke-width="26" stroke-linejoin="round"/></g>
<path d="M846.4 1712.2h50" stroke="#000" stroke-width="2"/>
<text x="871.4" y="1721.2" font-size="7.6" font-weight="bold" text-anchor="middle">100 µm</text>
</g>
<rect x="527.62" y="1424.51" width="390.16" height="313.14" fill="none" stroke="#000" stroke-width="2.7" stroke-linejoin="round"/>
<clipPath id="cp12"><rect x="927.97" y="1425.86" width="387.46" height="310.44"/></clipPath>
<g clip-path="url(#cp12)">
<rect x="926.97" y="1424.86" width="389.46" height="312.44" fill="#aea3d4"/>
<g transform="translate(918,1414) scale(0.237269)" filter="url(#bl)"><path d="M1050,200C1088,117 1142,127 1250,100C1358,73 1625,20 1700,40C1775,60 1750,177 1700,220C1650,263 1458,237 1400,300C1342,363 1350,500 1350,600C1350,700 1408,817 1400,900C1392,983 1358,1100 1300,1100C1242,1100 1097,983 1050,900C1003,817 1020,717 1020,600C1020,483 1012,283 1050,200Z" fill="#8376b9"/><path d="M300,100C350,70 543,70 600,120C657,170 607,320 640,400C673,480 757,533 800,600C843,667 917,783 900,800C883,817 767,750 700,700C633,650 567,567 500,500C433,433 333,367 300,300C267,233 250,130 300,100Z" fill="#8f83c1" opacity="0.8"/><path d="M420,820C470,780 612,747 700,760C788,773 858,860 950,900C1042,940 1233,948 1250,1000C1267,1052 1158,1183 1050,1210C942,1237 708,1195 600,1160C492,1125 430,1057 400,1000C370,943 370,860 420,820Z" fill="#c9c1e2"/><path d="M60,500C92,460 202,510 250,560C298,610 358,743 350,800C342,857 248,900 200,900C152,900 83,867 60,800C37,733 28,540 60,500Z" fill="#bdb4da" opacity="0.8"/><path d="M1380,320C1405,283 1447,287 1500,280C1553,273 1667,93 1700,280C1733,467 1767,1213 1700,1400C1633,1587 1350,1450 1300,1400C1250,1350 1380,1200 1400,1100C1420,1000 1428,900 1420,800C1412,700 1357,580 1350,500C1343,420 1355,357 1380,320Z" fill="#c79ac8"/><path d="M20,950C50,877 137,932 200,960C263,988 333,1083 400,1120C467,1157 517,1162 600,1180C683,1198 817,1223 900,1230C983,1237 1033,1233 1100,1220C1167,1207 1247,1178 1300,1150C1353,1122 1400,1008 1420,1050C1440,1092 1653,1342 1420,1400C1187,1458 253,1475 20,1400C-213,1325 -10,1023 20,950Z" fill="#dcabcf"/><path d="M1500,1250C1550,1217 1667,1175 1700,1200C1733,1225 1750,1367 1700,1400C1650,1433 1433,1425 1400,1400C1367,1375 1450,1283 1500,1250Z" fill="#d4c4e2"/></g>
<g transform="translate(918,1414) scale(0.237269)" filter="url(#bl2)" stroke-linecap="round" fill="none"><path d="M300,770L310,780" stroke="#5b4a8c" stroke-width="90" opacity="0.8"/><path d="M420,330L425,335" stroke="#a0509a" stroke-width="60" opacity="0.7"/><path d="M480,180L600,230" stroke="#9a62a8" stroke-width="70" opacity="0.6"/></g>
<rect x="926.97" y="1424.86" width="389.46" height="312.44" filter="url(#sp2)" opacity="0.87"/>
<g transform="translate(918,1414) scale(0.237269)" filter="url(#bl)"><path d="M1380,320C1405,283 1447,287 1500,280C1553,273 1667,93 1700,280C1733,467 1767,1213 1700,1400C1633,1587 1350,1450 1300,1400C1250,1350 1380,1200 1400,1100C1420,1000 1428,900 1420,800C1412,700 1357,580 1350,500C1343,420 1355,357 1380,320Z" fill="#c79ac8" opacity="0.2"/><path d="M20,950C50,877 137,932 200,960C263,988 333,1083 400,1120C467,1157 517,1162 600,1180C683,1198 817,1223 900,1230C983,1237 1033,1233 1100,1220C1167,1207 1247,1178 1300,1150C1353,1122 1400,1008 1420,1050C1440,1092 1653,1342 1420,1400C1187,1458 253,1475 20,1400C-213,1325 -10,1023 20,950Z" fill="#dcabcf" opacity="0.25"/></g>
<g transform="translate(918,1414) scale(0.237269)" filter="url(#bl3)"><ellipse cx="150" cy="175" rx="100" ry="92" fill="#fdfcfe" stroke="#9a86c4" stroke-width="20"/><path d="M250,-20C270,-42 378,-40 400,-20C422,0 400,78 380,100C360,122 302,130 280,110C258,90 230,2 250,-20Z" fill="#fdfcfe" opacity="0.9"/><path d="M1500,250C1542,237 1667,212 1700,215C1733,218 1742,257 1700,270C1658,283 1483,298 1450,295C1417,292 1458,263 1500,250Z" fill="#fdfcfe"/><path d="M560,-20C665,-48 1152,-48 1250,-20C1348,8 1178,105 1150,150C1122,195 1098,208 1080,250C1062,292 1048,350 1040,400C1032,450 1033,508 1030,550C1027,592 1025,617 1020,650C1015,683 1005,715 1000,750C995,785 1000,845 990,860C980,875 952,860 940,840C928,820 927,777 920,740C913,703 920,645 900,620C880,595 840,603 800,590C760,577 687,567 660,540C633,513 633,465 640,430C647,395 700,360 700,330C700,300 653,280 640,250C627,220 633,195 620,150C607,105 455,8 560,-20Z" fill="#fdfcfe" stroke="#9486c4" stroke-opacity="0.75" stroke-width="16" stroke-linejoin="round"/></g>
<path d="M1245.4 1712.2h50" stroke="#000" stroke-width="2"/>
<text x="1270.4" y="1721.2" font-size="7.6" font-weight="bold" text-anchor="middle">100 µm</text>
</g>
<rect x="926.62" y="1424.51" width="390.16" height="313.14" fill="none" stroke="#000" stroke-width="2.7" stroke-linejoin="round"/>
<clipPath id="cp13"><rect x="1328.15" y="1425.86" width="387.46" height="310.44"/></clipPath>
<g clip-path="url(#cp13)">
<rect x="1327.15" y="1424.86" width="389.46" height="312.44" fill="#f1ecf5"/>
<g transform="translate(1317,1414) scale(0.237269)" filter="url(#bl)"><path d="M350,30C533,18 1325,15 1500,30C1675,45 1458,95 1400,120C1342,145 1225,163 1150,180C1075,197 1025,220 950,220C875,220 767,188 700,180C633,172 600,183 550,170C500,157 433,123 400,100C367,77 167,42 350,30Z" fill="#d2cae3"/><path d="M560,60C577,37 678,32 700,50C722,68 707,147 690,170C673,193 622,208 600,190C578,172 543,83 560,60Z" fill="#e79bbd" opacity="0.8"/><path d="M20,300C50,208 140,252 200,240C260,228 342,220 380,230C418,240 393,285 430,300C467,315 522,318 600,320C678,322 800,313 900,310C1000,307 1100,302 1200,300C1300,298 1417,302 1500,300C1583,298 1667,207 1700,285C1733,363 1783,687 1700,770C1617,853 1350,781 1200,785C1050,789 933,792 800,795C667,798 530,806 400,805C270,804 83,874 20,790C-43,706 -10,392 20,300Z" fill="#b0a4d4"/><path d="M20,300C50,275 140,252 200,240C260,228 342,220 380,230C418,240 393,285 430,300C467,315 522,318 600,320C678,322 800,313 900,310C1000,307 1100,302 1200,300C1300,298 1417,302 1500,300C1583,298 1667,270 1700,285C1733,300 1783,372 1700,390C1617,408 1350,388 1200,390C1050,392 933,400 800,400C667,400 530,392 400,390C270,388 83,405 20,390C-43,375 -10,325 20,300Z" fill="#9a62ae" opacity="0.6"/><path d="M860,420C883,363 977,363 1000,420C1023,477 1023,703 1000,760C977,817 883,817 860,760C837,703 837,477 860,420Z" fill="#bdb4da" opacity="0.8"/><path d="M20,810C83,792 270,821 400,825C530,829 667,840 800,835C933,830 1083,804 1200,795C1317,786 1417,779 1500,780C1583,781 1667,753 1700,800C1733,847 1723,1002 1700,1060C1677,1118 1602,1118 1560,1150C1518,1182 1473,1208 1450,1250C1427,1292 1432,1375 1420,1400C1408,1425 1370,1442 1380,1400C1390,1358 1452,1217 1480,1150C1508,1083 1537,1042 1550,1000C1563,958 1602,926 1560,900C1518,874 1393,852 1300,845C1207,838 1083,842 1000,855C917,868 883,912 800,925C717,938 600,935 500,935C400,935 280,925 200,925C120,925 50,954 20,935C-10,916 -43,828 20,810Z" fill="#e98fb6"/><path d="M1600,1200C1620,1158 1683,1117 1700,1150C1717,1183 1720,1358 1700,1400C1680,1442 1597,1433 1580,1400C1563,1367 1580,1242 1600,1200Z" fill="#8c7fc0"/></g>
<g transform="translate(1317,1414) scale(0.237269)" filter="url(#bl2)" stroke-linecap="round" fill="none"><path d="M215,520L205,620" stroke="#f4f0f8" stroke-width="86" opacity="0.8"/><path d="M215,520L205,620" stroke="#5a4ca2" stroke-width="60" opacity="0.95"/><path d="M300,470L305,690" stroke="#f4f0f8" stroke-width="86" opacity="0.8"/><path d="M300,470L305,690" stroke="#5a4ca2" stroke-width="60" opacity="0.95"/><path d="M450,560L450,680" stroke="#f4f0f8" stroke-width="86" opacity="0.8"/><path d="M450,560L450,680" stroke="#5a4ca2" stroke-width="60" opacity="0.95"/><path d="M600,680L590,750" stroke="#f4f0f8" stroke-width="91" opacity="0.8"/><path d="M600,680L590,750" stroke="#5a4ca2" stroke-width="65" opacity="0.95"/><path d="M750,520L740,690" stroke="#f4f0f8" stroke-width="91" opacity="0.8"/><path d="M750,520L740,690" stroke="#5a4ca2" stroke-width="65" opacity="0.95"/><path d="M1040,470L1045,680" stroke="#f4f0f8" stroke-width="86" opacity="0.8"/><path d="M1040,470L1045,680" stroke="#5a4ca2" stroke-width="60" opacity="0.95"/><path d="M1150,500L1150,680" stroke="#f4f0f8" stroke-width="81" opacity="0.8"/><path d="M1150,500L1150,680" stroke="#5a4ca2" stroke-width="55" opacity="0.95"/><path d="M1320,480L1320,680" stroke="#f4f0f8" stroke-width="86" opacity="0.8"/><path d="M1320,480L1320,680" stroke="#5a4ca2" stroke-width="60" opacity="0.95"/><path d="M1390,400L1390,660" stroke="#f4f0f8" stroke-width="86" opacity="0.8"/><path d="M1390,400L1390,660" stroke="#5a4ca2" stroke-width="60" opacity="0.95"/><path d="M640,400L700,500" stroke="#f4f0f8" stroke-width="106" opacity="0.8"/><path d="M640,400L700,500" stroke="#5a4ca2" stroke-width="80" opacity="0.95"/><path d="M380,600L380,610" stroke="#f4f0f8" stroke-width="66" opacity="0.8"/><path d="M380,600L380,610" stroke="#5a4ca2" stroke-width="40" opacity="0.95"/><path d="M1230,600L1230,640" stroke="#f4f0f8" stroke-width="66" opacity="0.8"/><path d="M1230,600L1230,640" stroke="#5a4ca2" stroke-width="40" opacity="0.95"/><path d="M1480,620L1480,640" stroke="#f4f0f8" stroke-width="66" opacity="0.8"/><path d="M1480,620L1480,640" stroke="#5a4ca2" stroke-width="40" opacity="0.95"/></g>
<rect x="1327.15" y="1424.86" width="389.46" height="312.44" filter="url(#sp3)" opacity="0.56"/>
<g transform="translate(1317,1414) scale(0.237269)" filter="url(#bl)"><path d="M20,810C83,792 270,821 400,825C530,829 667,840 800,835C933,830 1083,804 1200,795C1317,786 1417,779 1500,780C1583,781 1667,753 1700,800C1733,847 1723,1002 1700,1060C1677,1118 1602,1118 1560,1150C1518,1182 1473,1208 1450,1250C1427,1292 1432,1375 1420,1400C1408,1425 1370,1442 1380,1400C1390,1358 1452,1217 1480,1150C1508,1083 1537,1042 1550,1000C1563,958 1602,926 1560,900C1518,874 1393,852 1300,845C1207,838 1083,842 1000,855C917,868 883,912 800,925C717,938 600,935 500,935C400,935 280,925 200,925C120,925 50,954 20,935C-10,916 -43,828 20,810Z" fill="#e98fb6" opacity="0.5"/><path d="M-20,960L400,960L800,950L1300,880L1540,930L1520,1050L1440,1200L1370,1420L-20,1420Z" fill="#f4f0f8" opacity="0.55"/></g>
<g transform="translate(1317,1414) scale(0.237269)" filter="url(#bl3)"><path d="M1540,330C1553,302 1623,315 1640,330C1657,345 1653,392 1640,420C1627,448 1577,515 1560,500C1543,485 1527,358 1540,330Z" fill="#fdfcfe"/><path d="M20,20C73,-23 280,3 340,20C400,37 343,90 380,120C417,150 473,178 560,200C647,222 793,248 900,250C1007,252 1108,227 1200,210C1292,193 1390,182 1450,150C1510,118 1515,42 1560,20C1605,-2 1693,-22 1720,20C1747,62 1757,227 1720,270C1683,313 1587,278 1500,280C1413,282 1300,278 1200,280C1100,282 1000,287 900,290C800,293 677,302 600,300C523,298 477,295 440,280C403,265 420,220 380,210C340,200 260,208 200,220C140,232 50,313 20,280C-10,247 -33,63 20,20Z" fill="#fdfcfe" opacity="0.85"/></g>
<path d="M1645.6 1712.2h50" stroke="#000" stroke-width="2"/>
<text x="1670.6" y="1721.2" font-size="7.6" font-weight="bold" text-anchor="middle">100 µm</text>
</g>
<rect x="1326.80" y="1424.51" width="390.16" height="313.14" fill="none" stroke="#000" stroke-width="2.7" stroke-linejoin="round"/>
</g>
</svg>
</body></html>
